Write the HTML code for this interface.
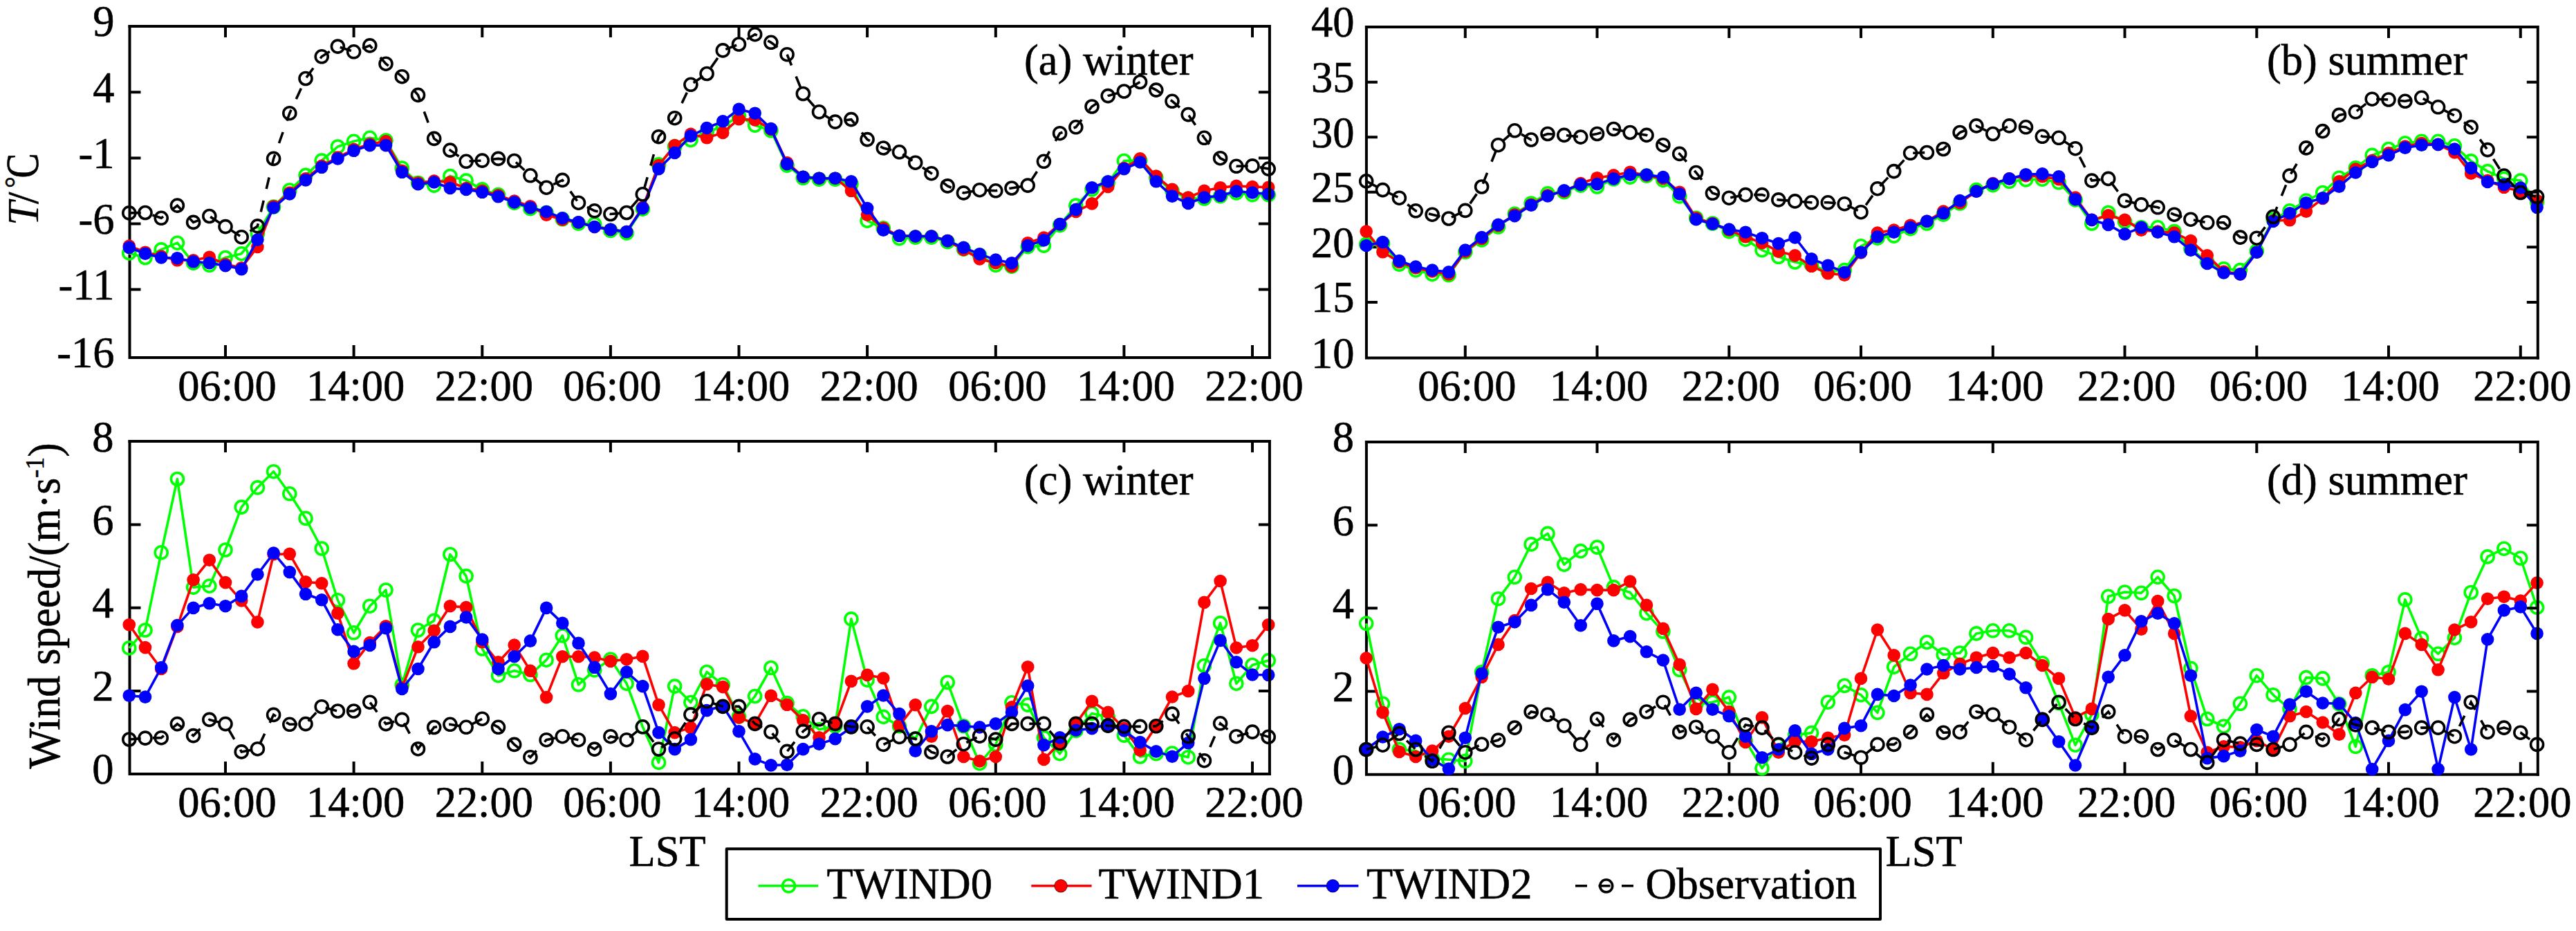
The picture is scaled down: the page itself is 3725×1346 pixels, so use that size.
<!DOCTYPE html>
<html lang="en"><head><meta charset="utf-8"><title>TWIND comparison</title>
<style>html,body{margin:0;padding:0;background:#fff}body{width:3725px;height:1346px;overflow:hidden}svg{display:block}</style>
</head><body>
<svg width="3725" height="1346" viewBox="0 0 3725 1346">
<rect width="3725" height="1346" fill="#fff"/>
<g id="panel-a">
<path d="M187.5 36.1V516.9H1837.9M326.0 516.9v-18M511.6 516.9v-18M697.3 516.9v-18M882.9 516.9v-18M1068.5 516.9v-18M1254.1 516.9v-18M1439.8 516.9v-18M1625.4 516.9v-18M1811.0 516.9v-18M187.5 133.3h16M187.5 228.4h16M187.5 323.4h16M187.5 418.6h16" stroke="#000" stroke-width="4.0" fill="none"/>
<polyline points="186.8,365.9 210.0,372.5 233.2,360.9 256.4,351.2 279.6,380.2 302.8,383.3 326.0,372.5 349.2,366.7 372.4,337.7 395.6,299.0 418.8,275.0 442.0,253.4 465.2,232.1 488.4,212.0 511.6,204.3 534.8,199.3 558.0,203.1 581.3,243.0 604.5,264.2 627.7,268.1 650.9,254.6 674.1,261.1 697.3,273.9 720.5,281.6 743.7,293.2 766.9,301.7 790.1,307.5 813.3,316.8 836.5,323.0 859.7,324.1 882.9,333.4 906.1,336.9 929.3,302.1 952.5,237.9 975.7,212.0 998.9,202.4 1022.1,190.8 1045.3,183.0 1068.5,167.6 1091.7,181.1 1114.9,188.8 1138.1,239.1 1161.3,257.3 1184.5,259.2 1207.7,259.2 1230.9,266.2 1254.1,319.1 1277.3,329.9 1300.5,344.6 1323.7,343.1 1346.9,343.1 1370.2,349.7 1393.4,360.1 1416.6,369.0 1439.8,383.3 1463.0,385.2 1486.2,356.6 1509.4,355.1 1532.6,325.7 1555.8,297.1 1579.0,273.9 1602.2,264.2 1625.4,232.5 1648.6,232.1 1671.8,256.5 1695.0,275.8 1718.2,287.4 1741.4,287.0 1764.6,283.6 1787.8,278.9 1811.0,281.6 1834.2,281.6" fill="none" stroke="#00ff00" stroke-width="3.6" stroke-linejoin="round"/>
<g fill="none" stroke="#00ff00" stroke-width="3.6"><circle cx="186.8" cy="365.9" r="9"/><circle cx="210.0" cy="372.5" r="9"/><circle cx="233.2" cy="360.9" r="9"/><circle cx="256.4" cy="351.2" r="9"/><circle cx="279.6" cy="380.2" r="9"/><circle cx="302.8" cy="383.3" r="9"/><circle cx="326.0" cy="372.5" r="9"/><circle cx="349.2" cy="366.7" r="9"/><circle cx="372.4" cy="337.7" r="9"/><circle cx="395.6" cy="299.0" r="9"/><circle cx="418.8" cy="275.0" r="9"/><circle cx="442.0" cy="253.4" r="9"/><circle cx="465.2" cy="232.1" r="9"/><circle cx="488.4" cy="212.0" r="9"/><circle cx="511.6" cy="204.3" r="9"/><circle cx="534.8" cy="199.3" r="9"/><circle cx="558.0" cy="203.1" r="9"/><circle cx="581.3" cy="243.0" r="9"/><circle cx="604.5" cy="264.2" r="9"/><circle cx="627.7" cy="268.1" r="9"/><circle cx="650.9" cy="254.6" r="9"/><circle cx="674.1" cy="261.1" r="9"/><circle cx="697.3" cy="273.9" r="9"/><circle cx="720.5" cy="281.6" r="9"/><circle cx="743.7" cy="293.2" r="9"/><circle cx="766.9" cy="301.7" r="9"/><circle cx="790.1" cy="307.5" r="9"/><circle cx="813.3" cy="316.8" r="9"/><circle cx="836.5" cy="323.0" r="9"/><circle cx="859.7" cy="324.1" r="9"/><circle cx="882.9" cy="333.4" r="9"/><circle cx="906.1" cy="336.9" r="9"/><circle cx="929.3" cy="302.1" r="9"/><circle cx="952.5" cy="237.9" r="9"/><circle cx="975.7" cy="212.0" r="9"/><circle cx="998.9" cy="202.4" r="9"/><circle cx="1022.1" cy="190.8" r="9"/><circle cx="1045.3" cy="183.0" r="9"/><circle cx="1068.5" cy="167.6" r="9"/><circle cx="1091.7" cy="181.1" r="9"/><circle cx="1114.9" cy="188.8" r="9"/><circle cx="1138.1" cy="239.1" r="9"/><circle cx="1161.3" cy="257.3" r="9"/><circle cx="1184.5" cy="259.2" r="9"/><circle cx="1207.7" cy="259.2" r="9"/><circle cx="1230.9" cy="266.2" r="9"/><circle cx="1254.1" cy="319.1" r="9"/><circle cx="1277.3" cy="329.9" r="9"/><circle cx="1300.5" cy="344.6" r="9"/><circle cx="1323.7" cy="343.1" r="9"/><circle cx="1346.9" cy="343.1" r="9"/><circle cx="1370.2" cy="349.7" r="9"/><circle cx="1393.4" cy="360.1" r="9"/><circle cx="1416.6" cy="369.0" r="9"/><circle cx="1439.8" cy="383.3" r="9"/><circle cx="1463.0" cy="385.2" r="9"/><circle cx="1486.2" cy="356.6" r="9"/><circle cx="1509.4" cy="355.1" r="9"/><circle cx="1532.6" cy="325.7" r="9"/><circle cx="1555.8" cy="297.1" r="9"/><circle cx="1579.0" cy="273.9" r="9"/><circle cx="1602.2" cy="264.2" r="9"/><circle cx="1625.4" cy="232.5" r="9"/><circle cx="1648.6" cy="232.1" r="9"/><circle cx="1671.8" cy="256.5" r="9"/><circle cx="1695.0" cy="275.8" r="9"/><circle cx="1718.2" cy="287.4" r="9"/><circle cx="1741.4" cy="287.0" r="9"/><circle cx="1764.6" cy="283.6" r="9"/><circle cx="1787.8" cy="278.9" r="9"/><circle cx="1811.0" cy="281.6" r="9"/><circle cx="1834.2" cy="281.6" r="9"/></g>
<polyline points="186.8,355.5 210.0,364.7 233.2,370.5 256.4,376.3 279.6,376.3 302.8,371.7 326.0,382.1 349.2,387.2 372.4,357.0 395.6,298.2 418.8,278.5 442.0,258.4 465.2,239.9 488.4,227.5 511.6,215.9 534.8,208.2 558.0,204.3 581.3,246.8 604.5,264.2 627.7,261.5 650.9,263.5 674.1,272.0 697.3,275.8 720.5,282.4 743.7,290.5 766.9,298.2 790.1,310.6 813.3,317.6 836.5,321.4 859.7,328.0 882.9,331.9 906.1,335.0 929.3,299.8 952.5,239.1 975.7,210.1 998.9,193.9 1022.1,199.3 1045.3,191.9 1068.5,172.2 1091.7,173.4 1114.9,186.9 1138.1,235.2 1161.3,255.7 1184.5,257.7 1207.7,257.7 1230.9,275.8 1254.1,310.6 1277.3,329.9 1300.5,340.8 1323.7,341.5 1346.9,341.5 1370.2,348.1 1393.4,360.9 1416.6,374.4 1439.8,380.2 1463.0,385.2 1486.2,351.2 1509.4,343.5 1532.6,324.1 1555.8,306.0 1579.0,294.4 1602.2,270.0 1625.4,243.0 1648.6,229.4 1671.8,254.6 1695.0,273.9 1718.2,285.5 1741.4,275.8 1764.6,271.2 1787.8,268.9 1811.0,270.0 1834.2,270.8" fill="none" stroke="#ff0000" stroke-width="3.6" stroke-linejoin="round"/>
<g fill="#ff0000"><circle cx="186.8" cy="355.5" r="9.3"/><circle cx="210.0" cy="364.7" r="9.3"/><circle cx="233.2" cy="370.5" r="9.3"/><circle cx="256.4" cy="376.3" r="9.3"/><circle cx="279.6" cy="376.3" r="9.3"/><circle cx="302.8" cy="371.7" r="9.3"/><circle cx="326.0" cy="382.1" r="9.3"/><circle cx="349.2" cy="387.2" r="9.3"/><circle cx="372.4" cy="357.0" r="9.3"/><circle cx="395.6" cy="298.2" r="9.3"/><circle cx="418.8" cy="278.5" r="9.3"/><circle cx="442.0" cy="258.4" r="9.3"/><circle cx="465.2" cy="239.9" r="9.3"/><circle cx="488.4" cy="227.5" r="9.3"/><circle cx="511.6" cy="215.9" r="9.3"/><circle cx="534.8" cy="208.2" r="9.3"/><circle cx="558.0" cy="204.3" r="9.3"/><circle cx="581.3" cy="246.8" r="9.3"/><circle cx="604.5" cy="264.2" r="9.3"/><circle cx="627.7" cy="261.5" r="9.3"/><circle cx="650.9" cy="263.5" r="9.3"/><circle cx="674.1" cy="272.0" r="9.3"/><circle cx="697.3" cy="275.8" r="9.3"/><circle cx="720.5" cy="282.4" r="9.3"/><circle cx="743.7" cy="290.5" r="9.3"/><circle cx="766.9" cy="298.2" r="9.3"/><circle cx="790.1" cy="310.6" r="9.3"/><circle cx="813.3" cy="317.6" r="9.3"/><circle cx="836.5" cy="321.4" r="9.3"/><circle cx="859.7" cy="328.0" r="9.3"/><circle cx="882.9" cy="331.9" r="9.3"/><circle cx="906.1" cy="335.0" r="9.3"/><circle cx="929.3" cy="299.8" r="9.3"/><circle cx="952.5" cy="239.1" r="9.3"/><circle cx="975.7" cy="210.1" r="9.3"/><circle cx="998.9" cy="193.9" r="9.3"/><circle cx="1022.1" cy="199.3" r="9.3"/><circle cx="1045.3" cy="191.9" r="9.3"/><circle cx="1068.5" cy="172.2" r="9.3"/><circle cx="1091.7" cy="173.4" r="9.3"/><circle cx="1114.9" cy="186.9" r="9.3"/><circle cx="1138.1" cy="235.2" r="9.3"/><circle cx="1161.3" cy="255.7" r="9.3"/><circle cx="1184.5" cy="257.7" r="9.3"/><circle cx="1207.7" cy="257.7" r="9.3"/><circle cx="1230.9" cy="275.8" r="9.3"/><circle cx="1254.1" cy="310.6" r="9.3"/><circle cx="1277.3" cy="329.9" r="9.3"/><circle cx="1300.5" cy="340.8" r="9.3"/><circle cx="1323.7" cy="341.5" r="9.3"/><circle cx="1346.9" cy="341.5" r="9.3"/><circle cx="1370.2" cy="348.1" r="9.3"/><circle cx="1393.4" cy="360.9" r="9.3"/><circle cx="1416.6" cy="374.4" r="9.3"/><circle cx="1439.8" cy="380.2" r="9.3"/><circle cx="1463.0" cy="385.2" r="9.3"/><circle cx="1486.2" cy="351.2" r="9.3"/><circle cx="1509.4" cy="343.5" r="9.3"/><circle cx="1532.6" cy="324.1" r="9.3"/><circle cx="1555.8" cy="306.0" r="9.3"/><circle cx="1579.0" cy="294.4" r="9.3"/><circle cx="1602.2" cy="270.0" r="9.3"/><circle cx="1625.4" cy="243.0" r="9.3"/><circle cx="1648.6" cy="229.4" r="9.3"/><circle cx="1671.8" cy="254.6" r="9.3"/><circle cx="1695.0" cy="273.9" r="9.3"/><circle cx="1718.2" cy="285.5" r="9.3"/><circle cx="1741.4" cy="275.8" r="9.3"/><circle cx="1764.6" cy="271.2" r="9.3"/><circle cx="1787.8" cy="268.9" r="9.3"/><circle cx="1811.0" cy="270.0" r="9.3"/><circle cx="1834.2" cy="270.8" r="9.3"/></g>
<polyline points="186.8,357.8 210.0,366.7 233.2,372.5 256.4,373.2 279.6,378.3 302.8,380.2 326.0,384.1 349.2,389.1 372.4,346.6 395.6,300.2 418.8,280.5 442.0,260.4 465.2,241.8 488.4,229.4 511.6,217.8 534.8,210.1 558.0,210.1 581.3,248.8 604.5,266.2 627.7,263.5 650.9,272.0 674.1,273.9 697.3,277.8 720.5,284.3 743.7,292.4 766.9,300.2 790.1,306.0 813.3,315.3 836.5,321.4 859.7,328.0 882.9,331.9 906.1,335.0 929.3,301.0 952.5,244.1 975.7,220.9 998.9,196.6 1022.1,185.0 1045.3,175.3 1068.5,157.9 1091.7,163.7 1114.9,186.1 1138.1,237.2 1161.3,255.7 1184.5,257.7 1207.7,257.7 1230.9,262.3 1254.1,301.0 1277.3,332.7 1300.5,340.8 1323.7,341.5 1346.9,341.5 1370.2,348.1 1393.4,357.8 1416.6,367.4 1439.8,375.6 1463.0,380.2 1486.2,355.1 1509.4,347.3 1532.6,324.1 1555.8,302.9 1579.0,271.2 1602.2,262.3 1625.4,244.1 1648.6,234.5 1671.8,262.3 1695.0,283.6 1718.2,294.0 1741.4,285.5 1764.6,282.8 1787.8,276.6 1811.0,278.5 1834.2,280.5" fill="none" stroke="#0000ff" stroke-width="3.6" stroke-linejoin="round"/>
<g fill="#0000ff"><circle cx="186.8" cy="357.8" r="9.3"/><circle cx="210.0" cy="366.7" r="9.3"/><circle cx="233.2" cy="372.5" r="9.3"/><circle cx="256.4" cy="373.2" r="9.3"/><circle cx="279.6" cy="378.3" r="9.3"/><circle cx="302.8" cy="380.2" r="9.3"/><circle cx="326.0" cy="384.1" r="9.3"/><circle cx="349.2" cy="389.1" r="9.3"/><circle cx="372.4" cy="346.6" r="9.3"/><circle cx="395.6" cy="300.2" r="9.3"/><circle cx="418.8" cy="280.5" r="9.3"/><circle cx="442.0" cy="260.4" r="9.3"/><circle cx="465.2" cy="241.8" r="9.3"/><circle cx="488.4" cy="229.4" r="9.3"/><circle cx="511.6" cy="217.8" r="9.3"/><circle cx="534.8" cy="210.1" r="9.3"/><circle cx="558.0" cy="210.1" r="9.3"/><circle cx="581.3" cy="248.8" r="9.3"/><circle cx="604.5" cy="266.2" r="9.3"/><circle cx="627.7" cy="263.5" r="9.3"/><circle cx="650.9" cy="272.0" r="9.3"/><circle cx="674.1" cy="273.9" r="9.3"/><circle cx="697.3" cy="277.8" r="9.3"/><circle cx="720.5" cy="284.3" r="9.3"/><circle cx="743.7" cy="292.4" r="9.3"/><circle cx="766.9" cy="300.2" r="9.3"/><circle cx="790.1" cy="306.0" r="9.3"/><circle cx="813.3" cy="315.3" r="9.3"/><circle cx="836.5" cy="321.4" r="9.3"/><circle cx="859.7" cy="328.0" r="9.3"/><circle cx="882.9" cy="331.9" r="9.3"/><circle cx="906.1" cy="335.0" r="9.3"/><circle cx="929.3" cy="301.0" r="9.3"/><circle cx="952.5" cy="244.1" r="9.3"/><circle cx="975.7" cy="220.9" r="9.3"/><circle cx="998.9" cy="196.6" r="9.3"/><circle cx="1022.1" cy="185.0" r="9.3"/><circle cx="1045.3" cy="175.3" r="9.3"/><circle cx="1068.5" cy="157.9" r="9.3"/><circle cx="1091.7" cy="163.7" r="9.3"/><circle cx="1114.9" cy="186.1" r="9.3"/><circle cx="1138.1" cy="237.2" r="9.3"/><circle cx="1161.3" cy="255.7" r="9.3"/><circle cx="1184.5" cy="257.7" r="9.3"/><circle cx="1207.7" cy="257.7" r="9.3"/><circle cx="1230.9" cy="262.3" r="9.3"/><circle cx="1254.1" cy="301.0" r="9.3"/><circle cx="1277.3" cy="332.7" r="9.3"/><circle cx="1300.5" cy="340.8" r="9.3"/><circle cx="1323.7" cy="341.5" r="9.3"/><circle cx="1346.9" cy="341.5" r="9.3"/><circle cx="1370.2" cy="348.1" r="9.3"/><circle cx="1393.4" cy="357.8" r="9.3"/><circle cx="1416.6" cy="367.4" r="9.3"/><circle cx="1439.8" cy="375.6" r="9.3"/><circle cx="1463.0" cy="380.2" r="9.3"/><circle cx="1486.2" cy="355.1" r="9.3"/><circle cx="1509.4" cy="347.3" r="9.3"/><circle cx="1532.6" cy="324.1" r="9.3"/><circle cx="1555.8" cy="302.9" r="9.3"/><circle cx="1579.0" cy="271.2" r="9.3"/><circle cx="1602.2" cy="262.3" r="9.3"/><circle cx="1625.4" cy="244.1" r="9.3"/><circle cx="1648.6" cy="234.5" r="9.3"/><circle cx="1671.8" cy="262.3" r="9.3"/><circle cx="1695.0" cy="283.6" r="9.3"/><circle cx="1718.2" cy="294.0" r="9.3"/><circle cx="1741.4" cy="285.5" r="9.3"/><circle cx="1764.6" cy="282.8" r="9.3"/><circle cx="1787.8" cy="276.6" r="9.3"/><circle cx="1811.0" cy="278.5" r="9.3"/><circle cx="1834.2" cy="280.5" r="9.3"/></g>
<polyline points="186.8,307.9 210.0,307.5 233.2,315.3 256.4,297.1 279.6,321.4 302.8,312.5 326.0,327.6 349.2,342.7 372.4,326.9 395.6,229.4 418.8,163.7 442.0,113.5 465.2,81.8 488.4,67.1 511.6,74.8 534.8,65.9 558.0,92.2 581.3,110.7 604.5,137.4 627.7,200.4 650.9,217.1 674.1,233.3 697.3,232.1 720.5,229.4 743.7,232.5 766.9,253.8 790.1,271.2 813.3,260.4 836.5,293.2 859.7,304.8 882.9,309.5 906.1,307.5 929.3,280.8 952.5,197.7 975.7,170.7 998.9,122.3 1022.1,106.5 1045.3,72.9 1068.5,64.0 1091.7,49.7 1114.9,61.3 1138.1,78.7 1161.3,135.5 1184.5,161.8 1207.7,176.1 1230.9,172.6 1254.1,201.6 1277.3,214.0 1300.5,219.8 1323.7,235.2 1346.9,250.7 1370.2,268.9 1393.4,278.9 1416.6,274.7 1439.8,275.8 1463.0,272.0 1486.2,268.1 1509.4,233.3 1532.6,192.7 1555.8,183.8 1579.0,154.0 1602.2,138.6 1625.4,132.0 1648.6,118.5 1671.8,130.1 1695.0,146.3 1718.2,165.6 1741.4,199.3 1764.6,228.7 1787.8,240.3 1811.0,239.9 1834.2,244.1" fill="none" stroke="#000000" stroke-width="3.6" stroke-dasharray="17 17.3" stroke-dashoffset="0"/>
<g fill="none" stroke="#000000" stroke-width="3.6"><circle cx="186.8" cy="307.9" r="9"/><circle cx="210.0" cy="307.5" r="9"/><circle cx="233.2" cy="315.3" r="9"/><circle cx="256.4" cy="297.1" r="9"/><circle cx="279.6" cy="321.4" r="9"/><circle cx="302.8" cy="312.5" r="9"/><circle cx="326.0" cy="327.6" r="9"/><circle cx="349.2" cy="342.7" r="9"/><circle cx="372.4" cy="326.9" r="9"/><circle cx="395.6" cy="229.4" r="9"/><circle cx="418.8" cy="163.7" r="9"/><circle cx="442.0" cy="113.5" r="9"/><circle cx="465.2" cy="81.8" r="9"/><circle cx="488.4" cy="67.1" r="9"/><circle cx="511.6" cy="74.8" r="9"/><circle cx="534.8" cy="65.9" r="9"/><circle cx="558.0" cy="92.2" r="9"/><circle cx="581.3" cy="110.7" r="9"/><circle cx="604.5" cy="137.4" r="9"/><circle cx="627.7" cy="200.4" r="9"/><circle cx="650.9" cy="217.1" r="9"/><circle cx="674.1" cy="233.3" r="9"/><circle cx="697.3" cy="232.1" r="9"/><circle cx="720.5" cy="229.4" r="9"/><circle cx="743.7" cy="232.5" r="9"/><circle cx="766.9" cy="253.8" r="9"/><circle cx="790.1" cy="271.2" r="9"/><circle cx="813.3" cy="260.4" r="9"/><circle cx="836.5" cy="293.2" r="9"/><circle cx="859.7" cy="304.8" r="9"/><circle cx="882.9" cy="309.5" r="9"/><circle cx="906.1" cy="307.5" r="9"/><circle cx="929.3" cy="280.8" r="9"/><circle cx="952.5" cy="197.7" r="9"/><circle cx="975.7" cy="170.7" r="9"/><circle cx="998.9" cy="122.3" r="9"/><circle cx="1022.1" cy="106.5" r="9"/><circle cx="1045.3" cy="72.9" r="9"/><circle cx="1068.5" cy="64.0" r="9"/><circle cx="1091.7" cy="49.7" r="9"/><circle cx="1114.9" cy="61.3" r="9"/><circle cx="1138.1" cy="78.7" r="9"/><circle cx="1161.3" cy="135.5" r="9"/><circle cx="1184.5" cy="161.8" r="9"/><circle cx="1207.7" cy="176.1" r="9"/><circle cx="1230.9" cy="172.6" r="9"/><circle cx="1254.1" cy="201.6" r="9"/><circle cx="1277.3" cy="214.0" r="9"/><circle cx="1300.5" cy="219.8" r="9"/><circle cx="1323.7" cy="235.2" r="9"/><circle cx="1346.9" cy="250.7" r="9"/><circle cx="1370.2" cy="268.9" r="9"/><circle cx="1393.4" cy="278.9" r="9"/><circle cx="1416.6" cy="274.7" r="9"/><circle cx="1439.8" cy="275.8" r="9"/><circle cx="1463.0" cy="272.0" r="9"/><circle cx="1486.2" cy="268.1" r="9"/><circle cx="1509.4" cy="233.3" r="9"/><circle cx="1532.6" cy="192.7" r="9"/><circle cx="1555.8" cy="183.8" r="9"/><circle cx="1579.0" cy="154.0" r="9"/><circle cx="1602.2" cy="138.6" r="9"/><circle cx="1625.4" cy="132.0" r="9"/><circle cx="1648.6" cy="118.5" r="9"/><circle cx="1671.8" cy="130.1" r="9"/><circle cx="1695.0" cy="146.3" r="9"/><circle cx="1718.2" cy="165.6" r="9"/><circle cx="1741.4" cy="199.3" r="9"/><circle cx="1764.6" cy="228.7" r="9"/><circle cx="1787.8" cy="240.3" r="9"/><circle cx="1811.0" cy="239.9" r="9"/><circle cx="1834.2" cy="244.1" r="9"/></g>
<path d="M185.5 38.1H1835.9V518.9M326.0 38.1v16M511.6 38.1v16M697.3 38.1v16M882.9 38.1v16M1068.5 38.1v16M1254.1 38.1v16M1439.8 38.1v16M1625.4 38.1v16M1811.0 38.1v16M1835.9 133.3h-16M1835.9 228.4h-16M1835.9 323.4h-16M1835.9 418.6h-16" stroke="#000" stroke-width="4.0" fill="none"/>
<g font-family="'Liberation Serif', 'Times New Roman', serif" font-size="62.5" fill="#000" stroke="#000" stroke-width="0.6" stroke-linejoin="round">
<text transform="translate(165.5,52.4) scale(1,1.02)" text-anchor="end">9</text>
<text transform="translate(165.5,147.6) scale(1,1.02)" text-anchor="end">4</text>
<text transform="translate(165.5,242.7) scale(1,1.02)" text-anchor="end">-1</text>
<text transform="translate(165.5,337.7) scale(1,1.02)" text-anchor="end">-6</text>
<text transform="translate(165.5,432.9) scale(1,1.02)" text-anchor="end">-11</text>
<text transform="translate(165.5,531.2) scale(1,1.02)" text-anchor="end">-16</text>
<text transform="translate(328.5,579.0) scale(1,1.02)" text-anchor="middle">06:00</text>
<text transform="translate(514.1,579.0) scale(1,1.02)" text-anchor="middle">14:00</text>
<text transform="translate(699.8,579.0) scale(1,1.02)" text-anchor="middle">22:00</text>
<text transform="translate(885.4,579.0) scale(1,1.02)" text-anchor="middle">06:00</text>
<text transform="translate(1071.0,579.0) scale(1,1.02)" text-anchor="middle">14:00</text>
<text transform="translate(1256.6,579.0) scale(1,1.02)" text-anchor="middle">22:00</text>
<text transform="translate(1442.3,579.0) scale(1,1.02)" text-anchor="middle">06:00</text>
<text transform="translate(1627.9,579.0) scale(1,1.02)" text-anchor="middle">14:00</text>
<text transform="translate(1813.5,579.0) scale(1,1.02)" text-anchor="middle">22:00</text>
</g>
</g>
<g id="panel-b">
<path d="M1975.9 37.1V517.6H3671.8M2118.8 517.6v-18M2309.5 517.6v-18M2500.3 517.6v-18M2691.0 517.6v-18M2881.8 517.6v-18M3072.5 517.6v-18M3263.3 517.6v-18M3454.0 517.6v-18M3644.8 517.6v-18M1975.9 118.8h16M1975.9 198.3h16M1975.9 277.8h16M1975.9 357.3h16M1975.9 436.9h16" stroke="#000" stroke-width="4.0" fill="none"/>
<polyline points="1975.7,353.1 1999.5,352.0 2023.4,382.1 2047.2,390.6 2071.1,396.4 2094.9,397.6 2118.8,364.3 2142.6,346.9 2166.5,328.0 2190.3,309.4 2214.1,294.0 2238.0,279.7 2261.8,277.7 2285.7,268.1 2309.5,270.0 2333.4,258.8 2357.2,256.1 2381.0,254.1 2404.9,260.3 2428.7,283.9 2452.6,315.2 2476.4,323.0 2500.3,334.6 2524.1,346.2 2548.0,361.6 2571.8,371.3 2595.6,379.0 2619.5,382.9 2643.3,392.5 2667.2,390.6 2691.0,355.8 2714.9,344.2 2738.7,341.1 2762.6,330.7 2786.4,323.0 2810.2,310.2 2834.1,294.0 2857.9,274.6 2881.8,267.7 2905.6,262.3 2929.5,259.9 2953.3,259.2 2977.1,263.8 3001.0,288.9 3024.8,323.0 3048.7,307.5 3072.5,320.3 3096.4,328.8 3120.2,328.8 3144.1,334.6 3167.9,359.7 3191.7,379.0 3215.6,388.7 3239.4,390.6 3263.3,362.8 3287.1,317.2 3311.0,304.8 3334.8,290.1 3358.7,278.5 3382.5,257.2 3406.3,242.9 3430.2,224.4 3454.0,215.5 3477.9,207.0 3501.7,204.3 3525.6,204.3 3549.4,210.8 3573.2,232.9 3597.1,247.6 3620.9,258.4 3644.8,261.1 3668.6,292.0" fill="none" stroke="#00ff00" stroke-width="3.6" stroke-linejoin="round"/>
<g fill="none" stroke="#00ff00" stroke-width="3.6"><circle cx="1975.7" cy="353.1" r="9"/><circle cx="1999.5" cy="352.0" r="9"/><circle cx="2023.4" cy="382.1" r="9"/><circle cx="2047.2" cy="390.6" r="9"/><circle cx="2071.1" cy="396.4" r="9"/><circle cx="2094.9" cy="397.6" r="9"/><circle cx="2118.8" cy="364.3" r="9"/><circle cx="2142.6" cy="346.9" r="9"/><circle cx="2166.5" cy="328.0" r="9"/><circle cx="2190.3" cy="309.4" r="9"/><circle cx="2214.1" cy="294.0" r="9"/><circle cx="2238.0" cy="279.7" r="9"/><circle cx="2261.8" cy="277.7" r="9"/><circle cx="2285.7" cy="268.1" r="9"/><circle cx="2309.5" cy="270.0" r="9"/><circle cx="2333.4" cy="258.8" r="9"/><circle cx="2357.2" cy="256.1" r="9"/><circle cx="2381.0" cy="254.1" r="9"/><circle cx="2404.9" cy="260.3" r="9"/><circle cx="2428.7" cy="283.9" r="9"/><circle cx="2452.6" cy="315.2" r="9"/><circle cx="2476.4" cy="323.0" r="9"/><circle cx="2500.3" cy="334.6" r="9"/><circle cx="2524.1" cy="346.2" r="9"/><circle cx="2548.0" cy="361.6" r="9"/><circle cx="2571.8" cy="371.3" r="9"/><circle cx="2595.6" cy="379.0" r="9"/><circle cx="2619.5" cy="382.9" r="9"/><circle cx="2643.3" cy="392.5" r="9"/><circle cx="2667.2" cy="390.6" r="9"/><circle cx="2691.0" cy="355.8" r="9"/><circle cx="2714.9" cy="344.2" r="9"/><circle cx="2738.7" cy="341.1" r="9"/><circle cx="2762.6" cy="330.7" r="9"/><circle cx="2786.4" cy="323.0" r="9"/><circle cx="2810.2" cy="310.2" r="9"/><circle cx="2834.1" cy="294.0" r="9"/><circle cx="2857.9" cy="274.6" r="9"/><circle cx="2881.8" cy="267.7" r="9"/><circle cx="2905.6" cy="262.3" r="9"/><circle cx="2929.5" cy="259.9" r="9"/><circle cx="2953.3" cy="259.2" r="9"/><circle cx="2977.1" cy="263.8" r="9"/><circle cx="3001.0" cy="288.9" r="9"/><circle cx="3024.8" cy="323.0" r="9"/><circle cx="3048.7" cy="307.5" r="9"/><circle cx="3072.5" cy="320.3" r="9"/><circle cx="3096.4" cy="328.8" r="9"/><circle cx="3120.2" cy="328.8" r="9"/><circle cx="3144.1" cy="334.6" r="9"/><circle cx="3167.9" cy="359.7" r="9"/><circle cx="3191.7" cy="379.0" r="9"/><circle cx="3215.6" cy="388.7" r="9"/><circle cx="3239.4" cy="390.6" r="9"/><circle cx="3263.3" cy="362.8" r="9"/><circle cx="3287.1" cy="317.2" r="9"/><circle cx="3311.0" cy="304.8" r="9"/><circle cx="3334.8" cy="290.1" r="9"/><circle cx="3358.7" cy="278.5" r="9"/><circle cx="3382.5" cy="257.2" r="9"/><circle cx="3406.3" cy="242.9" r="9"/><circle cx="3430.2" cy="224.4" r="9"/><circle cx="3454.0" cy="215.5" r="9"/><circle cx="3477.9" cy="207.0" r="9"/><circle cx="3501.7" cy="204.3" r="9"/><circle cx="3525.6" cy="204.3" r="9"/><circle cx="3549.4" cy="210.8" r="9"/><circle cx="3573.2" cy="232.9" r="9"/><circle cx="3597.1" cy="247.6" r="9"/><circle cx="3620.9" cy="258.4" r="9"/><circle cx="3644.8" cy="261.1" r="9"/><circle cx="3668.6" cy="292.0" r="9"/></g>
<polyline points="1975.7,334.6 1999.5,364.3 2023.4,379.0 2047.2,387.5 2071.1,392.5 2094.9,396.4 2118.8,363.6 2142.6,345.0 2166.5,326.1 2190.3,310.2 2214.1,295.9 2238.0,282.4 2261.8,276.6 2285.7,265.0 2309.5,257.2 2333.4,253.4 2357.2,248.7 2381.0,253.4 2404.9,258.0 2428.7,277.7 2452.6,315.2 2476.4,323.0 2500.3,332.6 2524.1,342.3 2548.0,351.2 2571.8,363.6 2595.6,369.4 2619.5,384.8 2643.3,395.3 2667.2,397.6 2691.0,365.5 2714.9,336.5 2738.7,332.6 2762.6,325.7 2786.4,319.9 2810.2,305.6 2834.1,293.2 2857.9,276.6 2881.8,265.0 2905.6,258.4 2929.5,254.1 2953.3,255.3 2977.1,259.2 3001.0,285.5 3024.8,317.9 3048.7,311.4 3072.5,317.9 3096.4,332.6 3120.2,334.6 3144.1,336.5 3167.9,348.1 3191.7,369.4 3215.6,392.5 3239.4,396.4 3263.3,364.7 3287.1,319.1 3311.0,318.3 3334.8,305.6 3358.7,287.0 3382.5,262.3 3406.3,244.5 3430.2,232.1 3454.0,221.3 3477.9,211.6 3501.7,207.0 3525.6,208.9 3549.4,220.5 3573.2,250.7 3597.1,261.1 3620.9,270.8 3644.8,276.6 3668.6,290.1" fill="none" stroke="#ff0000" stroke-width="3.6" stroke-linejoin="round"/>
<g fill="#ff0000"><circle cx="1975.7" cy="334.6" r="9.3"/><circle cx="1999.5" cy="364.3" r="9.3"/><circle cx="2023.4" cy="379.0" r="9.3"/><circle cx="2047.2" cy="387.5" r="9.3"/><circle cx="2071.1" cy="392.5" r="9.3"/><circle cx="2094.9" cy="396.4" r="9.3"/><circle cx="2118.8" cy="363.6" r="9.3"/><circle cx="2142.6" cy="345.0" r="9.3"/><circle cx="2166.5" cy="326.1" r="9.3"/><circle cx="2190.3" cy="310.2" r="9.3"/><circle cx="2214.1" cy="295.9" r="9.3"/><circle cx="2238.0" cy="282.4" r="9.3"/><circle cx="2261.8" cy="276.6" r="9.3"/><circle cx="2285.7" cy="265.0" r="9.3"/><circle cx="2309.5" cy="257.2" r="9.3"/><circle cx="2333.4" cy="253.4" r="9.3"/><circle cx="2357.2" cy="248.7" r="9.3"/><circle cx="2381.0" cy="253.4" r="9.3"/><circle cx="2404.9" cy="258.0" r="9.3"/><circle cx="2428.7" cy="277.7" r="9.3"/><circle cx="2452.6" cy="315.2" r="9.3"/><circle cx="2476.4" cy="323.0" r="9.3"/><circle cx="2500.3" cy="332.6" r="9.3"/><circle cx="2524.1" cy="342.3" r="9.3"/><circle cx="2548.0" cy="351.2" r="9.3"/><circle cx="2571.8" cy="363.6" r="9.3"/><circle cx="2595.6" cy="369.4" r="9.3"/><circle cx="2619.5" cy="384.8" r="9.3"/><circle cx="2643.3" cy="395.3" r="9.3"/><circle cx="2667.2" cy="397.6" r="9.3"/><circle cx="2691.0" cy="365.5" r="9.3"/><circle cx="2714.9" cy="336.5" r="9.3"/><circle cx="2738.7" cy="332.6" r="9.3"/><circle cx="2762.6" cy="325.7" r="9.3"/><circle cx="2786.4" cy="319.9" r="9.3"/><circle cx="2810.2" cy="305.6" r="9.3"/><circle cx="2834.1" cy="293.2" r="9.3"/><circle cx="2857.9" cy="276.6" r="9.3"/><circle cx="2881.8" cy="265.0" r="9.3"/><circle cx="2905.6" cy="258.4" r="9.3"/><circle cx="2929.5" cy="254.1" r="9.3"/><circle cx="2953.3" cy="255.3" r="9.3"/><circle cx="2977.1" cy="259.2" r="9.3"/><circle cx="3001.0" cy="285.5" r="9.3"/><circle cx="3024.8" cy="317.9" r="9.3"/><circle cx="3048.7" cy="311.4" r="9.3"/><circle cx="3072.5" cy="317.9" r="9.3"/><circle cx="3096.4" cy="332.6" r="9.3"/><circle cx="3120.2" cy="334.6" r="9.3"/><circle cx="3144.1" cy="336.5" r="9.3"/><circle cx="3167.9" cy="348.1" r="9.3"/><circle cx="3191.7" cy="369.4" r="9.3"/><circle cx="3215.6" cy="392.5" r="9.3"/><circle cx="3239.4" cy="396.4" r="9.3"/><circle cx="3263.3" cy="364.7" r="9.3"/><circle cx="3287.1" cy="319.1" r="9.3"/><circle cx="3311.0" cy="318.3" r="9.3"/><circle cx="3334.8" cy="305.6" r="9.3"/><circle cx="3358.7" cy="287.0" r="9.3"/><circle cx="3382.5" cy="262.3" r="9.3"/><circle cx="3406.3" cy="244.5" r="9.3"/><circle cx="3430.2" cy="232.1" r="9.3"/><circle cx="3454.0" cy="221.3" r="9.3"/><circle cx="3477.9" cy="211.6" r="9.3"/><circle cx="3501.7" cy="207.0" r="9.3"/><circle cx="3525.6" cy="208.9" r="9.3"/><circle cx="3549.4" cy="220.5" r="9.3"/><circle cx="3573.2" cy="250.7" r="9.3"/><circle cx="3597.1" cy="261.1" r="9.3"/><circle cx="3620.9" cy="270.8" r="9.3"/><circle cx="3644.8" cy="276.6" r="9.3"/><circle cx="3668.6" cy="290.1" r="9.3"/></g>
<polyline points="1975.7,355.0 1999.5,350.0 2023.4,377.1 2047.2,385.6 2071.1,390.6 2094.9,393.3 2118.8,361.6 2142.6,343.1 2166.5,324.9 2190.3,312.1 2214.1,296.7 2238.0,283.5 2261.8,275.4 2285.7,266.9 2309.5,266.1 2333.4,258.4 2357.2,252.6 2381.0,252.6 2404.9,256.1 2428.7,280.4 2452.6,317.2 2476.4,323.7 2500.3,331.5 2524.1,335.7 2548.0,344.2 2571.8,352.0 2595.6,343.5 2619.5,374.4 2643.3,383.7 2667.2,393.7 2691.0,364.7 2714.9,342.3 2738.7,335.7 2762.6,328.8 2786.4,319.9 2810.2,308.3 2834.1,290.1 2857.9,276.6 2881.8,265.7 2905.6,258.4 2929.5,252.2 2953.3,251.4 2977.1,255.3 3001.0,288.2 3024.8,317.9 3048.7,324.9 3072.5,338.4 3096.4,328.8 3120.2,335.7 3144.1,342.3 3167.9,361.6 3191.7,381.0 3215.6,394.5 3239.4,396.4 3263.3,364.7 3287.1,319.9 3311.0,308.3 3334.8,293.2 3358.7,286.2 3382.5,269.6 3406.3,249.5 3430.2,234.0 3454.0,224.4 3477.9,213.6 3501.7,209.7 3525.6,208.9 3549.4,215.5 3573.2,242.9 3597.1,263.0 3620.9,266.9 3644.8,271.5 3668.6,299.8" fill="none" stroke="#0000ff" stroke-width="3.6" stroke-linejoin="round"/>
<g fill="#0000ff"><circle cx="1975.7" cy="355.0" r="9.3"/><circle cx="1999.5" cy="350.0" r="9.3"/><circle cx="2023.4" cy="377.1" r="9.3"/><circle cx="2047.2" cy="385.6" r="9.3"/><circle cx="2071.1" cy="390.6" r="9.3"/><circle cx="2094.9" cy="393.3" r="9.3"/><circle cx="2118.8" cy="361.6" r="9.3"/><circle cx="2142.6" cy="343.1" r="9.3"/><circle cx="2166.5" cy="324.9" r="9.3"/><circle cx="2190.3" cy="312.1" r="9.3"/><circle cx="2214.1" cy="296.7" r="9.3"/><circle cx="2238.0" cy="283.5" r="9.3"/><circle cx="2261.8" cy="275.4" r="9.3"/><circle cx="2285.7" cy="266.9" r="9.3"/><circle cx="2309.5" cy="266.1" r="9.3"/><circle cx="2333.4" cy="258.4" r="9.3"/><circle cx="2357.2" cy="252.6" r="9.3"/><circle cx="2381.0" cy="252.6" r="9.3"/><circle cx="2404.9" cy="256.1" r="9.3"/><circle cx="2428.7" cy="280.4" r="9.3"/><circle cx="2452.6" cy="317.2" r="9.3"/><circle cx="2476.4" cy="323.7" r="9.3"/><circle cx="2500.3" cy="331.5" r="9.3"/><circle cx="2524.1" cy="335.7" r="9.3"/><circle cx="2548.0" cy="344.2" r="9.3"/><circle cx="2571.8" cy="352.0" r="9.3"/><circle cx="2595.6" cy="343.5" r="9.3"/><circle cx="2619.5" cy="374.4" r="9.3"/><circle cx="2643.3" cy="383.7" r="9.3"/><circle cx="2667.2" cy="393.7" r="9.3"/><circle cx="2691.0" cy="364.7" r="9.3"/><circle cx="2714.9" cy="342.3" r="9.3"/><circle cx="2738.7" cy="335.7" r="9.3"/><circle cx="2762.6" cy="328.8" r="9.3"/><circle cx="2786.4" cy="319.9" r="9.3"/><circle cx="2810.2" cy="308.3" r="9.3"/><circle cx="2834.1" cy="290.1" r="9.3"/><circle cx="2857.9" cy="276.6" r="9.3"/><circle cx="2881.8" cy="265.7" r="9.3"/><circle cx="2905.6" cy="258.4" r="9.3"/><circle cx="2929.5" cy="252.2" r="9.3"/><circle cx="2953.3" cy="251.4" r="9.3"/><circle cx="2977.1" cy="255.3" r="9.3"/><circle cx="3001.0" cy="288.2" r="9.3"/><circle cx="3024.8" cy="317.9" r="9.3"/><circle cx="3048.7" cy="324.9" r="9.3"/><circle cx="3072.5" cy="338.4" r="9.3"/><circle cx="3096.4" cy="328.8" r="9.3"/><circle cx="3120.2" cy="335.7" r="9.3"/><circle cx="3144.1" cy="342.3" r="9.3"/><circle cx="3167.9" cy="361.6" r="9.3"/><circle cx="3191.7" cy="381.0" r="9.3"/><circle cx="3215.6" cy="394.5" r="9.3"/><circle cx="3239.4" cy="396.4" r="9.3"/><circle cx="3263.3" cy="364.7" r="9.3"/><circle cx="3287.1" cy="319.9" r="9.3"/><circle cx="3311.0" cy="308.3" r="9.3"/><circle cx="3334.8" cy="293.2" r="9.3"/><circle cx="3358.7" cy="286.2" r="9.3"/><circle cx="3382.5" cy="269.6" r="9.3"/><circle cx="3406.3" cy="249.5" r="9.3"/><circle cx="3430.2" cy="234.0" r="9.3"/><circle cx="3454.0" cy="224.4" r="9.3"/><circle cx="3477.9" cy="213.6" r="9.3"/><circle cx="3501.7" cy="209.7" r="9.3"/><circle cx="3525.6" cy="208.9" r="9.3"/><circle cx="3549.4" cy="215.5" r="9.3"/><circle cx="3573.2" cy="242.9" r="9.3"/><circle cx="3597.1" cy="263.0" r="9.3"/><circle cx="3620.9" cy="266.9" r="9.3"/><circle cx="3644.8" cy="271.5" r="9.3"/><circle cx="3668.6" cy="299.8" r="9.3"/></g>
<polyline points="1975.7,261.9 1999.5,274.6 2023.4,286.2 2047.2,304.8 2071.1,310.2 2094.9,316.0 2118.8,304.4 2142.6,270.0 2166.5,209.7 2190.3,188.8 2214.1,202.0 2238.0,193.5 2261.8,195.4 2285.7,198.1 2309.5,193.5 2333.4,186.5 2357.2,191.5 2381.0,195.4 2404.9,209.7 2428.7,222.4 2452.6,249.5 2476.4,279.3 2500.3,286.2 2524.1,281.6 2548.0,281.6 2571.8,288.9 2595.6,290.9 2619.5,292.8 2643.3,292.8 2667.2,294.7 2691.0,306.7 2714.9,272.7 2738.7,247.6 2762.6,221.3 2786.4,220.5 2810.2,215.5 2834.1,191.5 2857.9,181.9 2881.8,193.5 2905.6,181.9 2929.5,183.8 2953.3,197.3 2977.1,199.3 3001.0,214.7 3024.8,261.1 3048.7,258.4 3072.5,290.1 3096.4,295.9 3120.2,299.8 3144.1,310.2 3167.9,317.2 3191.7,321.8 3215.6,321.8 3239.4,343.1 3263.3,344.2 3287.1,313.3 3311.0,254.1 3334.8,213.9 3358.7,189.6 3382.5,166.4 3406.3,161.8 3430.2,143.2 3454.0,144.0 3477.9,146.3 3501.7,141.3 3525.6,154.8 3549.4,167.2 3573.2,183.8 3597.1,216.6 3620.9,254.1 3644.8,278.5 3668.6,284.3" fill="none" stroke="#000000" stroke-width="3.6" stroke-dasharray="17 17.3" stroke-dashoffset="0"/>
<g fill="none" stroke="#000000" stroke-width="3.6"><circle cx="1975.7" cy="261.9" r="9"/><circle cx="1999.5" cy="274.6" r="9"/><circle cx="2023.4" cy="286.2" r="9"/><circle cx="2047.2" cy="304.8" r="9"/><circle cx="2071.1" cy="310.2" r="9"/><circle cx="2094.9" cy="316.0" r="9"/><circle cx="2118.8" cy="304.4" r="9"/><circle cx="2142.6" cy="270.0" r="9"/><circle cx="2166.5" cy="209.7" r="9"/><circle cx="2190.3" cy="188.8" r="9"/><circle cx="2214.1" cy="202.0" r="9"/><circle cx="2238.0" cy="193.5" r="9"/><circle cx="2261.8" cy="195.4" r="9"/><circle cx="2285.7" cy="198.1" r="9"/><circle cx="2309.5" cy="193.5" r="9"/><circle cx="2333.4" cy="186.5" r="9"/><circle cx="2357.2" cy="191.5" r="9"/><circle cx="2381.0" cy="195.4" r="9"/><circle cx="2404.9" cy="209.7" r="9"/><circle cx="2428.7" cy="222.4" r="9"/><circle cx="2452.6" cy="249.5" r="9"/><circle cx="2476.4" cy="279.3" r="9"/><circle cx="2500.3" cy="286.2" r="9"/><circle cx="2524.1" cy="281.6" r="9"/><circle cx="2548.0" cy="281.6" r="9"/><circle cx="2571.8" cy="288.9" r="9"/><circle cx="2595.6" cy="290.9" r="9"/><circle cx="2619.5" cy="292.8" r="9"/><circle cx="2643.3" cy="292.8" r="9"/><circle cx="2667.2" cy="294.7" r="9"/><circle cx="2691.0" cy="306.7" r="9"/><circle cx="2714.9" cy="272.7" r="9"/><circle cx="2738.7" cy="247.6" r="9"/><circle cx="2762.6" cy="221.3" r="9"/><circle cx="2786.4" cy="220.5" r="9"/><circle cx="2810.2" cy="215.5" r="9"/><circle cx="2834.1" cy="191.5" r="9"/><circle cx="2857.9" cy="181.9" r="9"/><circle cx="2881.8" cy="193.5" r="9"/><circle cx="2905.6" cy="181.9" r="9"/><circle cx="2929.5" cy="183.8" r="9"/><circle cx="2953.3" cy="197.3" r="9"/><circle cx="2977.1" cy="199.3" r="9"/><circle cx="3001.0" cy="214.7" r="9"/><circle cx="3024.8" cy="261.1" r="9"/><circle cx="3048.7" cy="258.4" r="9"/><circle cx="3072.5" cy="290.1" r="9"/><circle cx="3096.4" cy="295.9" r="9"/><circle cx="3120.2" cy="299.8" r="9"/><circle cx="3144.1" cy="310.2" r="9"/><circle cx="3167.9" cy="317.2" r="9"/><circle cx="3191.7" cy="321.8" r="9"/><circle cx="3215.6" cy="321.8" r="9"/><circle cx="3239.4" cy="343.1" r="9"/><circle cx="3263.3" cy="344.2" r="9"/><circle cx="3287.1" cy="313.3" r="9"/><circle cx="3311.0" cy="254.1" r="9"/><circle cx="3334.8" cy="213.9" r="9"/><circle cx="3358.7" cy="189.6" r="9"/><circle cx="3382.5" cy="166.4" r="9"/><circle cx="3406.3" cy="161.8" r="9"/><circle cx="3430.2" cy="143.2" r="9"/><circle cx="3454.0" cy="144.0" r="9"/><circle cx="3477.9" cy="146.3" r="9"/><circle cx="3501.7" cy="141.3" r="9"/><circle cx="3525.6" cy="154.8" r="9"/><circle cx="3549.4" cy="167.2" r="9"/><circle cx="3573.2" cy="183.8" r="9"/><circle cx="3597.1" cy="216.6" r="9"/><circle cx="3620.9" cy="254.1" r="9"/><circle cx="3644.8" cy="278.5" r="9"/><circle cx="3668.6" cy="284.3" r="9"/></g>
<path d="M1973.9 39.1H3669.8V519.6M2118.8 39.1v16M2309.5 39.1v16M2500.3 39.1v16M2691.0 39.1v16M2881.8 39.1v16M3072.5 39.1v16M3263.3 39.1v16M3454.0 39.1v16M3644.8 39.1v16M3669.8 118.8h-16M3669.8 198.3h-16M3669.8 277.8h-16M3669.8 357.3h-16M3669.8 436.9h-16" stroke="#000" stroke-width="4.0" fill="none"/>
<g font-family="'Liberation Serif', 'Times New Roman', serif" font-size="62.5" fill="#000" stroke="#000" stroke-width="0.6" stroke-linejoin="round">
<text transform="translate(1958.4,53.4) scale(1,1.02)" text-anchor="end">40</text>
<text transform="translate(1958.4,133.1) scale(1,1.02)" text-anchor="end">35</text>
<text transform="translate(1958.4,212.6) scale(1,1.02)" text-anchor="end">30</text>
<text transform="translate(1958.4,292.1) scale(1,1.02)" text-anchor="end">25</text>
<text transform="translate(1958.4,371.6) scale(1,1.02)" text-anchor="end">20</text>
<text transform="translate(1958.4,451.2) scale(1,1.02)" text-anchor="end">15</text>
<text transform="translate(1958.4,531.9) scale(1,1.02)" text-anchor="end">10</text>
<text transform="translate(2121.3,579.0) scale(1,1.02)" text-anchor="middle">06:00</text>
<text transform="translate(2312.0,579.0) scale(1,1.02)" text-anchor="middle">14:00</text>
<text transform="translate(2502.8,579.0) scale(1,1.02)" text-anchor="middle">22:00</text>
<text transform="translate(2693.5,579.0) scale(1,1.02)" text-anchor="middle">06:00</text>
<text transform="translate(2884.3,579.0) scale(1,1.02)" text-anchor="middle">14:00</text>
<text transform="translate(3075.0,579.0) scale(1,1.02)" text-anchor="middle">22:00</text>
<text transform="translate(3265.8,579.0) scale(1,1.02)" text-anchor="middle">06:00</text>
<text transform="translate(3456.5,579.0) scale(1,1.02)" text-anchor="middle">14:00</text>
<text transform="translate(3647.3,579.0) scale(1,1.02)" text-anchor="middle">22:00</text>
</g>
</g>
<g id="panel-c">
<path d="M187.5 636.1V1119.0H1837.9M326.0 1119.0v-18M511.6 1119.0v-18M697.3 1119.0v-18M882.9 1119.0v-18M1068.5 1119.0v-18M1254.1 1119.0v-18M1439.8 1119.0v-18M1625.4 1119.0v-18M1811.0 1119.0v-18M187.5 758.5h16M187.5 878.7h16M187.5 998.9h16" stroke="#000" stroke-width="4.0" fill="none"/>
<polyline points="186.8,936.9 210.0,911.0 233.2,798.8 256.4,692.5 279.6,849.1 302.8,847.2 326.0,795.0 349.2,733.1 372.4,704.9 395.6,681.7 418.8,713.8 442.0,749.4 465.2,793.0 488.4,867.7 511.6,914.8 534.8,876.2 558.0,853.0 581.3,990.2 604.5,911.0 627.7,897.4 650.9,801.5 674.1,832.9 697.3,938.0 720.5,976.7 743.7,969.8 766.9,975.5 790.1,954.2 813.3,918.9 836.5,989.8 859.7,968.8 882.9,953.2 906.1,988.2 929.3,1050.8 952.5,1102.4 975.7,992.1 998.9,1015.5 1022.1,971.5 1045.3,989.8 1068.5,1035.8 1091.7,1006.5 1114.9,965.5 1138.1,1016.5 1161.3,1035.8 1184.5,1054.7 1207.7,1049.8 1230.9,894.9 1254.1,983.2 1277.3,1036.4 1300.5,1049.8 1323.7,1068.1 1346.9,1021.4 1370.2,986.5 1393.4,1049.8 1416.6,1103.7 1439.8,1076.4 1463.0,1015.8 1486.2,1019.1 1509.4,1066.4 1532.6,1089.7 1555.8,1056.4 1579.0,1031.4 1602.2,1036.4 1625.4,1063.1 1648.6,1094.0 1671.8,1089.7 1695.0,1089.0 1718.2,1094.7 1741.4,962.5 1764.6,900.9 1787.8,988.2 1811.0,961.5 1834.2,954.9" fill="none" stroke="#00ff00" stroke-width="3.6" stroke-linejoin="round"/>
<g fill="none" stroke="#00ff00" stroke-width="3.6"><circle cx="186.8" cy="936.9" r="9"/><circle cx="210.0" cy="911.0" r="9"/><circle cx="233.2" cy="798.8" r="9"/><circle cx="256.4" cy="692.5" r="9"/><circle cx="279.6" cy="849.1" r="9"/><circle cx="302.8" cy="847.2" r="9"/><circle cx="326.0" cy="795.0" r="9"/><circle cx="349.2" cy="733.1" r="9"/><circle cx="372.4" cy="704.9" r="9"/><circle cx="395.6" cy="681.7" r="9"/><circle cx="418.8" cy="713.8" r="9"/><circle cx="442.0" cy="749.4" r="9"/><circle cx="465.2" cy="793.0" r="9"/><circle cx="488.4" cy="867.7" r="9"/><circle cx="511.6" cy="914.8" r="9"/><circle cx="534.8" cy="876.2" r="9"/><circle cx="558.0" cy="853.0" r="9"/><circle cx="581.3" cy="990.2" r="9"/><circle cx="604.5" cy="911.0" r="9"/><circle cx="627.7" cy="897.4" r="9"/><circle cx="650.9" cy="801.5" r="9"/><circle cx="674.1" cy="832.9" r="9"/><circle cx="697.3" cy="938.0" r="9"/><circle cx="720.5" cy="976.7" r="9"/><circle cx="743.7" cy="969.8" r="9"/><circle cx="766.9" cy="975.5" r="9"/><circle cx="790.1" cy="954.2" r="9"/><circle cx="813.3" cy="918.9" r="9"/><circle cx="836.5" cy="989.8" r="9"/><circle cx="859.7" cy="968.8" r="9"/><circle cx="882.9" cy="953.2" r="9"/><circle cx="906.1" cy="988.2" r="9"/><circle cx="929.3" cy="1050.8" r="9"/><circle cx="952.5" cy="1102.4" r="9"/><circle cx="975.7" cy="992.1" r="9"/><circle cx="998.9" cy="1015.5" r="9"/><circle cx="1022.1" cy="971.5" r="9"/><circle cx="1045.3" cy="989.8" r="9"/><circle cx="1068.5" cy="1035.8" r="9"/><circle cx="1091.7" cy="1006.5" r="9"/><circle cx="1114.9" cy="965.5" r="9"/><circle cx="1138.1" cy="1016.5" r="9"/><circle cx="1161.3" cy="1035.8" r="9"/><circle cx="1184.5" cy="1054.7" r="9"/><circle cx="1207.7" cy="1049.8" r="9"/><circle cx="1230.9" cy="894.9" r="9"/><circle cx="1254.1" cy="983.2" r="9"/><circle cx="1277.3" cy="1036.4" r="9"/><circle cx="1300.5" cy="1049.8" r="9"/><circle cx="1323.7" cy="1068.1" r="9"/><circle cx="1346.9" cy="1021.4" r="9"/><circle cx="1370.2" cy="986.5" r="9"/><circle cx="1393.4" cy="1049.8" r="9"/><circle cx="1416.6" cy="1103.7" r="9"/><circle cx="1439.8" cy="1076.4" r="9"/><circle cx="1463.0" cy="1015.8" r="9"/><circle cx="1486.2" cy="1019.1" r="9"/><circle cx="1509.4" cy="1066.4" r="9"/><circle cx="1532.6" cy="1089.7" r="9"/><circle cx="1555.8" cy="1056.4" r="9"/><circle cx="1579.0" cy="1031.4" r="9"/><circle cx="1602.2" cy="1036.4" r="9"/><circle cx="1625.4" cy="1063.1" r="9"/><circle cx="1648.6" cy="1094.0" r="9"/><circle cx="1671.8" cy="1089.7" r="9"/><circle cx="1695.0" cy="1089.0" r="9"/><circle cx="1718.2" cy="1094.7" r="9"/><circle cx="1741.4" cy="962.5" r="9"/><circle cx="1764.6" cy="900.9" r="9"/><circle cx="1787.8" cy="988.2" r="9"/><circle cx="1811.0" cy="961.5" r="9"/><circle cx="1834.2" cy="954.9" r="9"/></g>
<polyline points="186.8,903.2 210.0,936.1 233.2,967.0 256.4,905.9 279.6,838.3 302.8,809.7 326.0,842.1 349.2,868.4 372.4,899.4 395.6,801.5 418.8,800.8 442.0,841.4 465.2,843.3 488.4,886.6 511.6,959.3 534.8,929.1 558.0,905.2 581.3,994.1 604.5,935.3 627.7,911.7 650.9,876.2 674.1,878.1 697.3,928.3 720.5,957.3 743.7,932.5 766.9,969.8 790.1,1008.1 813.3,949.2 836.5,949.2 859.7,950.5 882.9,955.9 906.1,953.2 929.3,948.9 952.5,1019.1 975.7,1059.1 998.9,1052.1 1022.1,989.2 1045.3,993.1 1068.5,1037.4 1091.7,1046.4 1114.9,1005.8 1138.1,1018.8 1161.3,1041.4 1184.5,1066.4 1207.7,1047.4 1230.9,984.8 1254.1,975.8 1277.3,980.5 1300.5,1048.8 1323.7,1019.1 1346.9,1064.7 1370.2,1028.1 1393.4,1094.0 1416.6,1100.4 1439.8,1094.0 1463.0,1022.4 1486.2,964.2 1509.4,1098.0 1532.6,1074.1 1555.8,1046.4 1579.0,1013.8 1602.2,1029.8 1625.4,1053.1 1648.6,1084.7 1671.8,1049.8 1695.0,1007.5 1718.2,999.1 1741.4,870.9 1764.6,840.0 1787.8,936.5 1811.0,933.2 1834.2,903.2" fill="none" stroke="#ff0000" stroke-width="3.6" stroke-linejoin="round"/>
<g fill="#ff0000"><circle cx="186.8" cy="903.2" r="9.3"/><circle cx="210.0" cy="936.1" r="9.3"/><circle cx="233.2" cy="967.0" r="9.3"/><circle cx="256.4" cy="905.9" r="9.3"/><circle cx="279.6" cy="838.3" r="9.3"/><circle cx="302.8" cy="809.7" r="9.3"/><circle cx="326.0" cy="842.1" r="9.3"/><circle cx="349.2" cy="868.4" r="9.3"/><circle cx="372.4" cy="899.4" r="9.3"/><circle cx="395.6" cy="801.5" r="9.3"/><circle cx="418.8" cy="800.8" r="9.3"/><circle cx="442.0" cy="841.4" r="9.3"/><circle cx="465.2" cy="843.3" r="9.3"/><circle cx="488.4" cy="886.6" r="9.3"/><circle cx="511.6" cy="959.3" r="9.3"/><circle cx="534.8" cy="929.1" r="9.3"/><circle cx="558.0" cy="905.2" r="9.3"/><circle cx="581.3" cy="994.1" r="9.3"/><circle cx="604.5" cy="935.3" r="9.3"/><circle cx="627.7" cy="911.7" r="9.3"/><circle cx="650.9" cy="876.2" r="9.3"/><circle cx="674.1" cy="878.1" r="9.3"/><circle cx="697.3" cy="928.3" r="9.3"/><circle cx="720.5" cy="957.3" r="9.3"/><circle cx="743.7" cy="932.5" r="9.3"/><circle cx="766.9" cy="969.8" r="9.3"/><circle cx="790.1" cy="1008.1" r="9.3"/><circle cx="813.3" cy="949.2" r="9.3"/><circle cx="836.5" cy="949.2" r="9.3"/><circle cx="859.7" cy="950.5" r="9.3"/><circle cx="882.9" cy="955.9" r="9.3"/><circle cx="906.1" cy="953.2" r="9.3"/><circle cx="929.3" cy="948.9" r="9.3"/><circle cx="952.5" cy="1019.1" r="9.3"/><circle cx="975.7" cy="1059.1" r="9.3"/><circle cx="998.9" cy="1052.1" r="9.3"/><circle cx="1022.1" cy="989.2" r="9.3"/><circle cx="1045.3" cy="993.1" r="9.3"/><circle cx="1068.5" cy="1037.4" r="9.3"/><circle cx="1091.7" cy="1046.4" r="9.3"/><circle cx="1114.9" cy="1005.8" r="9.3"/><circle cx="1138.1" cy="1018.8" r="9.3"/><circle cx="1161.3" cy="1041.4" r="9.3"/><circle cx="1184.5" cy="1066.4" r="9.3"/><circle cx="1207.7" cy="1047.4" r="9.3"/><circle cx="1230.9" cy="984.8" r="9.3"/><circle cx="1254.1" cy="975.8" r="9.3"/><circle cx="1277.3" cy="980.5" r="9.3"/><circle cx="1300.5" cy="1048.8" r="9.3"/><circle cx="1323.7" cy="1019.1" r="9.3"/><circle cx="1346.9" cy="1064.7" r="9.3"/><circle cx="1370.2" cy="1028.1" r="9.3"/><circle cx="1393.4" cy="1094.0" r="9.3"/><circle cx="1416.6" cy="1100.4" r="9.3"/><circle cx="1439.8" cy="1094.0" r="9.3"/><circle cx="1463.0" cy="1022.4" r="9.3"/><circle cx="1486.2" cy="964.2" r="9.3"/><circle cx="1509.4" cy="1098.0" r="9.3"/><circle cx="1532.6" cy="1074.1" r="9.3"/><circle cx="1555.8" cy="1046.4" r="9.3"/><circle cx="1579.0" cy="1013.8" r="9.3"/><circle cx="1602.2" cy="1029.8" r="9.3"/><circle cx="1625.4" cy="1053.1" r="9.3"/><circle cx="1648.6" cy="1084.7" r="9.3"/><circle cx="1671.8" cy="1049.8" r="9.3"/><circle cx="1695.0" cy="1007.5" r="9.3"/><circle cx="1718.2" cy="999.1" r="9.3"/><circle cx="1741.4" cy="870.9" r="9.3"/><circle cx="1764.6" cy="840.0" r="9.3"/><circle cx="1787.8" cy="936.5" r="9.3"/><circle cx="1811.0" cy="933.2" r="9.3"/><circle cx="1834.2" cy="903.2" r="9.3"/></g>
<polyline points="186.8,1005.7 210.0,1007.6 233.2,965.1 256.4,904.0 279.6,878.9 302.8,872.3 326.0,876.2 349.2,861.9 372.4,830.5 395.6,799.6 418.8,827.1 442.0,858.8 465.2,867.3 488.4,910.2 511.6,941.9 534.8,933.0 558.0,908.2 581.3,996.0 604.5,967.0 627.7,928.3 650.9,905.9 674.1,892.4 697.3,924.5 720.5,967.0 743.7,949.2 766.9,926.6 790.1,878.9 813.3,900.9 836.5,929.9 859.7,964.8 882.9,1003.1 906.1,971.5 929.3,992.1 952.5,1059.1 975.7,1083.1 998.9,1069.1 1022.1,1027.1 1045.3,1020.8 1068.5,1057.4 1091.7,1097.4 1114.9,1106.4 1138.1,1105.7 1161.3,1083.1 1184.5,1075.7 1207.7,1068.1 1230.9,1052.1 1254.1,1021.4 1277.3,1005.5 1300.5,1032.1 1323.7,1085.7 1346.9,1057.4 1370.2,1048.1 1393.4,1049.8 1416.6,1051.4 1439.8,1046.4 1463.0,1029.8 1486.2,991.5 1509.4,1077.1 1532.6,1066.4 1555.8,1055.7 1579.0,1053.1 1602.2,1047.4 1625.4,1056.4 1648.6,1073.1 1671.8,1086.4 1695.0,1093.7 1718.2,1074.1 1741.4,980.8 1764.6,925.9 1787.8,957.2 1811.0,975.5 1834.2,975.8" fill="none" stroke="#0000ff" stroke-width="3.6" stroke-linejoin="round"/>
<g fill="#0000ff"><circle cx="186.8" cy="1005.7" r="9.3"/><circle cx="210.0" cy="1007.6" r="9.3"/><circle cx="233.2" cy="965.1" r="9.3"/><circle cx="256.4" cy="904.0" r="9.3"/><circle cx="279.6" cy="878.9" r="9.3"/><circle cx="302.8" cy="872.3" r="9.3"/><circle cx="326.0" cy="876.2" r="9.3"/><circle cx="349.2" cy="861.9" r="9.3"/><circle cx="372.4" cy="830.5" r="9.3"/><circle cx="395.6" cy="799.6" r="9.3"/><circle cx="418.8" cy="827.1" r="9.3"/><circle cx="442.0" cy="858.8" r="9.3"/><circle cx="465.2" cy="867.3" r="9.3"/><circle cx="488.4" cy="910.2" r="9.3"/><circle cx="511.6" cy="941.9" r="9.3"/><circle cx="534.8" cy="933.0" r="9.3"/><circle cx="558.0" cy="908.2" r="9.3"/><circle cx="581.3" cy="996.0" r="9.3"/><circle cx="604.5" cy="967.0" r="9.3"/><circle cx="627.7" cy="928.3" r="9.3"/><circle cx="650.9" cy="905.9" r="9.3"/><circle cx="674.1" cy="892.4" r="9.3"/><circle cx="697.3" cy="924.5" r="9.3"/><circle cx="720.5" cy="967.0" r="9.3"/><circle cx="743.7" cy="949.2" r="9.3"/><circle cx="766.9" cy="926.6" r="9.3"/><circle cx="790.1" cy="878.9" r="9.3"/><circle cx="813.3" cy="900.9" r="9.3"/><circle cx="836.5" cy="929.9" r="9.3"/><circle cx="859.7" cy="964.8" r="9.3"/><circle cx="882.9" cy="1003.1" r="9.3"/><circle cx="906.1" cy="971.5" r="9.3"/><circle cx="929.3" cy="992.1" r="9.3"/><circle cx="952.5" cy="1059.1" r="9.3"/><circle cx="975.7" cy="1083.1" r="9.3"/><circle cx="998.9" cy="1069.1" r="9.3"/><circle cx="1022.1" cy="1027.1" r="9.3"/><circle cx="1045.3" cy="1020.8" r="9.3"/><circle cx="1068.5" cy="1057.4" r="9.3"/><circle cx="1091.7" cy="1097.4" r="9.3"/><circle cx="1114.9" cy="1106.4" r="9.3"/><circle cx="1138.1" cy="1105.7" r="9.3"/><circle cx="1161.3" cy="1083.1" r="9.3"/><circle cx="1184.5" cy="1075.7" r="9.3"/><circle cx="1207.7" cy="1068.1" r="9.3"/><circle cx="1230.9" cy="1052.1" r="9.3"/><circle cx="1254.1" cy="1021.4" r="9.3"/><circle cx="1277.3" cy="1005.5" r="9.3"/><circle cx="1300.5" cy="1032.1" r="9.3"/><circle cx="1323.7" cy="1085.7" r="9.3"/><circle cx="1346.9" cy="1057.4" r="9.3"/><circle cx="1370.2" cy="1048.1" r="9.3"/><circle cx="1393.4" cy="1049.8" r="9.3"/><circle cx="1416.6" cy="1051.4" r="9.3"/><circle cx="1439.8" cy="1046.4" r="9.3"/><circle cx="1463.0" cy="1029.8" r="9.3"/><circle cx="1486.2" cy="991.5" r="9.3"/><circle cx="1509.4" cy="1077.1" r="9.3"/><circle cx="1532.6" cy="1066.4" r="9.3"/><circle cx="1555.8" cy="1055.7" r="9.3"/><circle cx="1579.0" cy="1053.1" r="9.3"/><circle cx="1602.2" cy="1047.4" r="9.3"/><circle cx="1625.4" cy="1056.4" r="9.3"/><circle cx="1648.6" cy="1073.1" r="9.3"/><circle cx="1671.8" cy="1086.4" r="9.3"/><circle cx="1695.0" cy="1093.7" r="9.3"/><circle cx="1718.2" cy="1074.1" r="9.3"/><circle cx="1741.4" cy="980.8" r="9.3"/><circle cx="1764.6" cy="925.9" r="9.3"/><circle cx="1787.8" cy="957.2" r="9.3"/><circle cx="1811.0" cy="975.5" r="9.3"/><circle cx="1834.2" cy="975.8" r="9.3"/></g>
<polyline points="186.8,1069.0 210.0,1067.1 233.2,1066.7 256.4,1046.6 279.6,1063.6 302.8,1040.4 326.0,1046.6 349.2,1086.9 372.4,1082.7 395.6,1033.4 418.8,1047.3 442.0,1046.6 465.2,1021.7 488.4,1028.0 511.6,1028.0 534.8,1015.2 558.0,1046.6 581.3,1040.4 604.5,1082.7 627.7,1051.5 650.9,1047.3 674.1,1051.3 697.3,1039.2 720.5,1051.3 743.7,1076.4 766.9,1094.7 790.1,1069.7 813.3,1064.7 836.5,1069.7 859.7,1083.1 882.9,1064.7 906.1,1069.7 929.3,1050.8 952.5,1083.1 975.7,1068.1 998.9,1033.1 1022.1,1013.8 1045.3,1021.4 1068.5,1021.4 1091.7,1046.4 1114.9,1058.1 1138.1,1086.4 1161.3,1057.4 1184.5,1039.8 1207.7,1046.4 1230.9,1050.8 1254.1,1050.8 1277.3,1076.4 1300.5,1065.4 1323.7,1068.1 1346.9,1087.4 1370.2,1094.0 1393.4,1075.7 1416.6,1064.1 1439.8,1069.1 1463.0,1046.4 1486.2,1046.4 1509.4,1046.4 1532.6,1074.7 1555.8,1046.4 1579.0,1046.4 1602.2,1049.1 1625.4,1050.4 1648.6,1050.4 1671.8,1049.8 1695.0,1032.1 1718.2,1064.7 1741.4,1099.7 1764.6,1045.8 1787.8,1064.7 1811.0,1058.1 1834.2,1065.4" fill="none" stroke="#000000" stroke-width="3.6" stroke-dasharray="17 17.3" stroke-dashoffset="0"/>
<g fill="none" stroke="#000000" stroke-width="3.6"><circle cx="186.8" cy="1069.0" r="9"/><circle cx="210.0" cy="1067.1" r="9"/><circle cx="233.2" cy="1066.7" r="9"/><circle cx="256.4" cy="1046.6" r="9"/><circle cx="279.6" cy="1063.6" r="9"/><circle cx="302.8" cy="1040.4" r="9"/><circle cx="326.0" cy="1046.6" r="9"/><circle cx="349.2" cy="1086.9" r="9"/><circle cx="372.4" cy="1082.7" r="9"/><circle cx="395.6" cy="1033.4" r="9"/><circle cx="418.8" cy="1047.3" r="9"/><circle cx="442.0" cy="1046.6" r="9"/><circle cx="465.2" cy="1021.7" r="9"/><circle cx="488.4" cy="1028.0" r="9"/><circle cx="511.6" cy="1028.0" r="9"/><circle cx="534.8" cy="1015.2" r="9"/><circle cx="558.0" cy="1046.6" r="9"/><circle cx="581.3" cy="1040.4" r="9"/><circle cx="604.5" cy="1082.7" r="9"/><circle cx="627.7" cy="1051.5" r="9"/><circle cx="650.9" cy="1047.3" r="9"/><circle cx="674.1" cy="1051.3" r="9"/><circle cx="697.3" cy="1039.2" r="9"/><circle cx="720.5" cy="1051.3" r="9"/><circle cx="743.7" cy="1076.4" r="9"/><circle cx="766.9" cy="1094.7" r="9"/><circle cx="790.1" cy="1069.7" r="9"/><circle cx="813.3" cy="1064.7" r="9"/><circle cx="836.5" cy="1069.7" r="9"/><circle cx="859.7" cy="1083.1" r="9"/><circle cx="882.9" cy="1064.7" r="9"/><circle cx="906.1" cy="1069.7" r="9"/><circle cx="929.3" cy="1050.8" r="9"/><circle cx="952.5" cy="1083.1" r="9"/><circle cx="975.7" cy="1068.1" r="9"/><circle cx="998.9" cy="1033.1" r="9"/><circle cx="1022.1" cy="1013.8" r="9"/><circle cx="1045.3" cy="1021.4" r="9"/><circle cx="1068.5" cy="1021.4" r="9"/><circle cx="1091.7" cy="1046.4" r="9"/><circle cx="1114.9" cy="1058.1" r="9"/><circle cx="1138.1" cy="1086.4" r="9"/><circle cx="1161.3" cy="1057.4" r="9"/><circle cx="1184.5" cy="1039.8" r="9"/><circle cx="1207.7" cy="1046.4" r="9"/><circle cx="1230.9" cy="1050.8" r="9"/><circle cx="1254.1" cy="1050.8" r="9"/><circle cx="1277.3" cy="1076.4" r="9"/><circle cx="1300.5" cy="1065.4" r="9"/><circle cx="1323.7" cy="1068.1" r="9"/><circle cx="1346.9" cy="1087.4" r="9"/><circle cx="1370.2" cy="1094.0" r="9"/><circle cx="1393.4" cy="1075.7" r="9"/><circle cx="1416.6" cy="1064.1" r="9"/><circle cx="1439.8" cy="1069.1" r="9"/><circle cx="1463.0" cy="1046.4" r="9"/><circle cx="1486.2" cy="1046.4" r="9"/><circle cx="1509.4" cy="1046.4" r="9"/><circle cx="1532.6" cy="1074.7" r="9"/><circle cx="1555.8" cy="1046.4" r="9"/><circle cx="1579.0" cy="1046.4" r="9"/><circle cx="1602.2" cy="1049.1" r="9"/><circle cx="1625.4" cy="1050.4" r="9"/><circle cx="1648.6" cy="1050.4" r="9"/><circle cx="1671.8" cy="1049.8" r="9"/><circle cx="1695.0" cy="1032.1" r="9"/><circle cx="1718.2" cy="1064.7" r="9"/><circle cx="1741.4" cy="1099.7" r="9"/><circle cx="1764.6" cy="1045.8" r="9"/><circle cx="1787.8" cy="1064.7" r="9"/><circle cx="1811.0" cy="1058.1" r="9"/><circle cx="1834.2" cy="1065.4" r="9"/></g>
<path d="M185.5 638.1H1835.9V1121.0M326.0 638.1v16M511.6 638.1v16M697.3 638.1v16M882.9 638.1v16M1068.5 638.1v16M1254.1 638.1v16M1439.8 638.1v16M1625.4 638.1v16M1811.0 638.1v16M1835.9 758.5h-16M1835.9 878.7h-16M1835.9 998.9h-16" stroke="#000" stroke-width="4.0" fill="none"/>
<g font-family="'Liberation Serif', 'Times New Roman', serif" font-size="62.5" fill="#000" stroke="#000" stroke-width="0.6" stroke-linejoin="round">
<text transform="translate(164.5,652.5) scale(1,1.02)" text-anchor="end">8</text>
<text transform="translate(164.5,772.8) scale(1,1.02)" text-anchor="end">6</text>
<text transform="translate(164.5,893.0) scale(1,1.02)" text-anchor="end">4</text>
<text transform="translate(164.5,1013.2) scale(1,1.02)" text-anchor="end">2</text>
<text transform="translate(164.5,1133.3) scale(1,1.02)" text-anchor="end">0</text>
<text transform="translate(328.5,1180.5) scale(1,1.02)" text-anchor="middle">06:00</text>
<text transform="translate(514.1,1180.5) scale(1,1.02)" text-anchor="middle">14:00</text>
<text transform="translate(699.8,1180.5) scale(1,1.02)" text-anchor="middle">22:00</text>
<text transform="translate(885.4,1180.5) scale(1,1.02)" text-anchor="middle">06:00</text>
<text transform="translate(1071.0,1180.5) scale(1,1.02)" text-anchor="middle">14:00</text>
<text transform="translate(1256.6,1180.5) scale(1,1.02)" text-anchor="middle">22:00</text>
<text transform="translate(1442.3,1180.5) scale(1,1.02)" text-anchor="middle">06:00</text>
<text transform="translate(1627.9,1180.5) scale(1,1.02)" text-anchor="middle">14:00</text>
<text transform="translate(1813.5,1180.5) scale(1,1.02)" text-anchor="middle">22:00</text>
</g>
</g>
<g id="panel-d">
<path d="M1975.9 637.1V1119.7H3671.8M2118.8 1119.7v-18M2309.5 1119.7v-18M2500.3 1119.7v-18M2691.0 1119.7v-18M2881.8 1119.7v-18M3072.5 1119.7v-18M3263.3 1119.7v-18M3454.0 1119.7v-18M3644.8 1119.7v-18M1975.9 759.2h16M1975.9 879.3h16M1975.9 999.5h16" stroke="#000" stroke-width="4.0" fill="none"/>
<polyline points="1975.7,901.3 1999.5,1017.3 2023.4,1083.5 2047.2,1085.6 2071.1,1096.1 2094.9,1098.2 2118.8,1100.3 2142.6,971.7 2166.5,865.7 2190.3,834.3 2214.1,786.9 2238.0,771.4 2261.8,816.2 2285.7,796.6 2309.5,791.1 2333.4,848.9 2357.2,856.5 2381.0,886.6 2404.9,913.0 2428.7,968.3 2452.6,1018.6 2476.4,1015.2 2500.3,1008.1 2524.1,1070.9 2548.0,1110.7 2571.8,1077.2 2595.6,1062.6 2619.5,1059.6 2643.3,1015.2 2667.2,991.3 2691.0,1004.7 2714.9,1030.3 2738.7,964.1 2762.6,945.3 2786.4,928.5 2810.2,946.5 2834.1,944.0 2857.9,915.9 2881.8,911.8 2905.6,911.8 2929.5,921.4 2953.3,958.7 2977.1,1016.5 3001.0,1077.2 3024.8,1033.2 3048.7,862.3 3072.5,856.0 3096.4,857.3 3120.2,834.3 3144.1,861.5 3167.9,966.2 3191.7,1039.5 3215.6,1050.0 3239.4,1017.3 3263.3,976.7 3287.1,1004.7 3311.0,1024.9 3334.8,979.6 3358.7,980.9 3382.5,1017.7 3406.3,1079.3 3430.2,976.7 3454.0,971.7 3477.9,866.9 3501.7,923.1 3525.6,945.3 3549.4,922.2 3573.2,856.5 3597.1,804.9 3620.9,793.2 3644.8,807.0 3668.6,878.2" fill="none" stroke="#00ff00" stroke-width="3.6" stroke-linejoin="round"/>
<g fill="none" stroke="#00ff00" stroke-width="3.6"><circle cx="1975.7" cy="901.3" r="9"/><circle cx="1999.5" cy="1017.3" r="9"/><circle cx="2023.4" cy="1083.5" r="9"/><circle cx="2047.2" cy="1085.6" r="9"/><circle cx="2071.1" cy="1096.1" r="9"/><circle cx="2094.9" cy="1098.2" r="9"/><circle cx="2118.8" cy="1100.3" r="9"/><circle cx="2142.6" cy="971.7" r="9"/><circle cx="2166.5" cy="865.7" r="9"/><circle cx="2190.3" cy="834.3" r="9"/><circle cx="2214.1" cy="786.9" r="9"/><circle cx="2238.0" cy="771.4" r="9"/><circle cx="2261.8" cy="816.2" r="9"/><circle cx="2285.7" cy="796.6" r="9"/><circle cx="2309.5" cy="791.1" r="9"/><circle cx="2333.4" cy="848.9" r="9"/><circle cx="2357.2" cy="856.5" r="9"/><circle cx="2381.0" cy="886.6" r="9"/><circle cx="2404.9" cy="913.0" r="9"/><circle cx="2428.7" cy="968.3" r="9"/><circle cx="2452.6" cy="1018.6" r="9"/><circle cx="2476.4" cy="1015.2" r="9"/><circle cx="2500.3" cy="1008.1" r="9"/><circle cx="2524.1" cy="1070.9" r="9"/><circle cx="2548.0" cy="1110.7" r="9"/><circle cx="2571.8" cy="1077.2" r="9"/><circle cx="2595.6" cy="1062.6" r="9"/><circle cx="2619.5" cy="1059.6" r="9"/><circle cx="2643.3" cy="1015.2" r="9"/><circle cx="2667.2" cy="991.3" r="9"/><circle cx="2691.0" cy="1004.7" r="9"/><circle cx="2714.9" cy="1030.3" r="9"/><circle cx="2738.7" cy="964.1" r="9"/><circle cx="2762.6" cy="945.3" r="9"/><circle cx="2786.4" cy="928.5" r="9"/><circle cx="2810.2" cy="946.5" r="9"/><circle cx="2834.1" cy="944.0" r="9"/><circle cx="2857.9" cy="915.9" r="9"/><circle cx="2881.8" cy="911.8" r="9"/><circle cx="2905.6" cy="911.8" r="9"/><circle cx="2929.5" cy="921.4" r="9"/><circle cx="2953.3" cy="958.7" r="9"/><circle cx="2977.1" cy="1016.5" r="9"/><circle cx="3001.0" cy="1077.2" r="9"/><circle cx="3024.8" cy="1033.2" r="9"/><circle cx="3048.7" cy="862.3" r="9"/><circle cx="3072.5" cy="856.0" r="9"/><circle cx="3096.4" cy="857.3" r="9"/><circle cx="3120.2" cy="834.3" r="9"/><circle cx="3144.1" cy="861.5" r="9"/><circle cx="3167.9" cy="966.2" r="9"/><circle cx="3191.7" cy="1039.5" r="9"/><circle cx="3215.6" cy="1050.0" r="9"/><circle cx="3239.4" cy="1017.3" r="9"/><circle cx="3263.3" cy="976.7" r="9"/><circle cx="3287.1" cy="1004.7" r="9"/><circle cx="3311.0" cy="1024.9" r="9"/><circle cx="3334.8" cy="979.6" r="9"/><circle cx="3358.7" cy="980.9" r="9"/><circle cx="3382.5" cy="1017.7" r="9"/><circle cx="3406.3" cy="1079.3" r="9"/><circle cx="3430.2" cy="976.7" r="9"/><circle cx="3454.0" cy="971.7" r="9"/><circle cx="3477.9" cy="866.9" r="9"/><circle cx="3501.7" cy="923.1" r="9"/><circle cx="3525.6" cy="945.3" r="9"/><circle cx="3549.4" cy="922.2" r="9"/><circle cx="3573.2" cy="856.5" r="9"/><circle cx="3597.1" cy="804.9" r="9"/><circle cx="3620.9" cy="793.2" r="9"/><circle cx="3644.8" cy="807.0" r="9"/><circle cx="3668.6" cy="878.2" r="9"/></g>
<polyline points="1975.7,951.5 1999.5,1029.9 2023.4,1086.9 2047.2,1094.0 2071.1,1085.6 2094.9,1064.7 2118.8,1024.0 2142.6,978.8 2166.5,931.9 2190.3,897.1 2214.1,851.0 2238.0,841.8 2261.8,857.3 2285.7,852.3 2309.5,853.1 2333.4,853.1 2357.2,840.5 2381.0,874.9 2404.9,908.8 2428.7,960.8 2452.6,1024.9 2476.4,996.8 2500.3,1029.0 2524.1,1073.0 2548.0,1037.4 2571.8,1087.7 2595.6,1071.8 2619.5,1072.2 2643.3,1066.7 2667.2,1062.6 2691.0,980.9 2714.9,910.5 2738.7,947.4 2762.6,1001.8 2786.4,1003.9 2810.2,973.3 2834.1,959.9 2857.9,950.7 2881.8,944.0 2905.6,950.7 2929.5,944.0 2953.3,962.0 2977.1,980.9 3001.0,1037.4 3024.8,1024.9 3048.7,895.0 3072.5,882.4 3096.4,909.7 3120.2,869.0 3144.1,915.9 3167.9,1035.3 3191.7,1087.7 3215.6,1079.3 3239.4,1080.2 3263.3,1070.9 3287.1,1083.5 3311.0,1035.3 3334.8,1029.0 3358.7,1044.5 3382.5,1061.7 3406.3,1001.8 3430.2,978.8 3454.0,981.7 3477.9,915.9 3501.7,931.9 3525.6,968.3 3549.4,910.5 3573.2,899.2 3597.1,865.7 3620.9,862.7 3644.8,868.6 3668.6,842.6" fill="none" stroke="#ff0000" stroke-width="3.6" stroke-linejoin="round"/>
<g fill="#ff0000"><circle cx="1975.7" cy="951.5" r="9.3"/><circle cx="1999.5" cy="1029.9" r="9.3"/><circle cx="2023.4" cy="1086.9" r="9.3"/><circle cx="2047.2" cy="1094.0" r="9.3"/><circle cx="2071.1" cy="1085.6" r="9.3"/><circle cx="2094.9" cy="1064.7" r="9.3"/><circle cx="2118.8" cy="1024.0" r="9.3"/><circle cx="2142.6" cy="978.8" r="9.3"/><circle cx="2166.5" cy="931.9" r="9.3"/><circle cx="2190.3" cy="897.1" r="9.3"/><circle cx="2214.1" cy="851.0" r="9.3"/><circle cx="2238.0" cy="841.8" r="9.3"/><circle cx="2261.8" cy="857.3" r="9.3"/><circle cx="2285.7" cy="852.3" r="9.3"/><circle cx="2309.5" cy="853.1" r="9.3"/><circle cx="2333.4" cy="853.1" r="9.3"/><circle cx="2357.2" cy="840.5" r="9.3"/><circle cx="2381.0" cy="874.9" r="9.3"/><circle cx="2404.9" cy="908.8" r="9.3"/><circle cx="2428.7" cy="960.8" r="9.3"/><circle cx="2452.6" cy="1024.9" r="9.3"/><circle cx="2476.4" cy="996.8" r="9.3"/><circle cx="2500.3" cy="1029.0" r="9.3"/><circle cx="2524.1" cy="1073.0" r="9.3"/><circle cx="2548.0" cy="1037.4" r="9.3"/><circle cx="2571.8" cy="1087.7" r="9.3"/><circle cx="2595.6" cy="1071.8" r="9.3"/><circle cx="2619.5" cy="1072.2" r="9.3"/><circle cx="2643.3" cy="1066.7" r="9.3"/><circle cx="2667.2" cy="1062.6" r="9.3"/><circle cx="2691.0" cy="980.9" r="9.3"/><circle cx="2714.9" cy="910.5" r="9.3"/><circle cx="2738.7" cy="947.4" r="9.3"/><circle cx="2762.6" cy="1001.8" r="9.3"/><circle cx="2786.4" cy="1003.9" r="9.3"/><circle cx="2810.2" cy="973.3" r="9.3"/><circle cx="2834.1" cy="959.9" r="9.3"/><circle cx="2857.9" cy="950.7" r="9.3"/><circle cx="2881.8" cy="944.0" r="9.3"/><circle cx="2905.6" cy="950.7" r="9.3"/><circle cx="2929.5" cy="944.0" r="9.3"/><circle cx="2953.3" cy="962.0" r="9.3"/><circle cx="2977.1" cy="980.9" r="9.3"/><circle cx="3001.0" cy="1037.4" r="9.3"/><circle cx="3024.8" cy="1024.9" r="9.3"/><circle cx="3048.7" cy="895.0" r="9.3"/><circle cx="3072.5" cy="882.4" r="9.3"/><circle cx="3096.4" cy="909.7" r="9.3"/><circle cx="3120.2" cy="869.0" r="9.3"/><circle cx="3144.1" cy="915.9" r="9.3"/><circle cx="3167.9" cy="1035.3" r="9.3"/><circle cx="3191.7" cy="1087.7" r="9.3"/><circle cx="3215.6" cy="1079.3" r="9.3"/><circle cx="3239.4" cy="1080.2" r="9.3"/><circle cx="3263.3" cy="1070.9" r="9.3"/><circle cx="3287.1" cy="1083.5" r="9.3"/><circle cx="3311.0" cy="1035.3" r="9.3"/><circle cx="3334.8" cy="1029.0" r="9.3"/><circle cx="3358.7" cy="1044.5" r="9.3"/><circle cx="3382.5" cy="1061.7" r="9.3"/><circle cx="3406.3" cy="1001.8" r="9.3"/><circle cx="3430.2" cy="978.8" r="9.3"/><circle cx="3454.0" cy="981.7" r="9.3"/><circle cx="3477.9" cy="915.9" r="9.3"/><circle cx="3501.7" cy="931.9" r="9.3"/><circle cx="3525.6" cy="968.3" r="9.3"/><circle cx="3549.4" cy="910.5" r="9.3"/><circle cx="3573.2" cy="899.2" r="9.3"/><circle cx="3597.1" cy="865.7" r="9.3"/><circle cx="3620.9" cy="862.7" r="9.3"/><circle cx="3644.8" cy="868.6" r="9.3"/><circle cx="3668.6" cy="842.6" r="9.3"/></g>
<polyline points="1975.7,1083.5 1999.5,1065.5 2023.4,1054.2 2047.2,1070.9 2071.1,1098.2 2094.9,1111.6 2118.8,1066.7 2142.6,973.7 2166.5,906.7 2190.3,899.2 2214.1,874.9 2238.0,852.3 2261.8,870.7 2285.7,904.2 2309.5,872.8 2333.4,926.4 2357.2,920.1 2381.0,942.3 2404.9,954.5 2428.7,1025.7 2452.6,1001.8 2476.4,1025.7 2500.3,1035.3 2524.1,1064.7 2548.0,1095.2 2571.8,1083.5 2595.6,1056.3 2619.5,1089.8 2643.3,1083.5 2667.2,1052.9 2691.0,1049.2 2714.9,1003.9 2738.7,1006.0 2762.6,990.5 2786.4,967.5 2810.2,962.0 2834.1,967.5 2857.9,965.0 2881.8,963.3 2905.6,974.6 2929.5,994.3 2953.3,1038.7 2977.1,1072.2 3001.0,1106.5 3024.8,1050.8 3048.7,978.8 3072.5,947.4 3096.4,898.3 3120.2,886.6 3144.1,901.3 3167.9,976.7 3191.7,1096.1 3215.6,1093.1 3239.4,1085.6 3263.3,1055.0 3287.1,1064.7 3311.0,1018.6 3334.8,999.7 3358.7,1016.5 3382.5,1017.3 3406.3,1045.0 3430.2,1112.0 3454.0,1070.9 3477.9,1026.1 3501.7,999.7 3525.6,1112.0 3549.4,1008.1 3573.2,1083.5 3597.1,924.3 3620.9,882.4 3644.8,877.4 3668.6,915.9" fill="none" stroke="#0000ff" stroke-width="3.6" stroke-linejoin="round"/>
<g fill="#0000ff"><circle cx="1975.7" cy="1083.5" r="9.3"/><circle cx="1999.5" cy="1065.5" r="9.3"/><circle cx="2023.4" cy="1054.2" r="9.3"/><circle cx="2047.2" cy="1070.9" r="9.3"/><circle cx="2071.1" cy="1098.2" r="9.3"/><circle cx="2094.9" cy="1111.6" r="9.3"/><circle cx="2118.8" cy="1066.7" r="9.3"/><circle cx="2142.6" cy="973.7" r="9.3"/><circle cx="2166.5" cy="906.7" r="9.3"/><circle cx="2190.3" cy="899.2" r="9.3"/><circle cx="2214.1" cy="874.9" r="9.3"/><circle cx="2238.0" cy="852.3" r="9.3"/><circle cx="2261.8" cy="870.7" r="9.3"/><circle cx="2285.7" cy="904.2" r="9.3"/><circle cx="2309.5" cy="872.8" r="9.3"/><circle cx="2333.4" cy="926.4" r="9.3"/><circle cx="2357.2" cy="920.1" r="9.3"/><circle cx="2381.0" cy="942.3" r="9.3"/><circle cx="2404.9" cy="954.5" r="9.3"/><circle cx="2428.7" cy="1025.7" r="9.3"/><circle cx="2452.6" cy="1001.8" r="9.3"/><circle cx="2476.4" cy="1025.7" r="9.3"/><circle cx="2500.3" cy="1035.3" r="9.3"/><circle cx="2524.1" cy="1064.7" r="9.3"/><circle cx="2548.0" cy="1095.2" r="9.3"/><circle cx="2571.8" cy="1083.5" r="9.3"/><circle cx="2595.6" cy="1056.3" r="9.3"/><circle cx="2619.5" cy="1089.8" r="9.3"/><circle cx="2643.3" cy="1083.5" r="9.3"/><circle cx="2667.2" cy="1052.9" r="9.3"/><circle cx="2691.0" cy="1049.2" r="9.3"/><circle cx="2714.9" cy="1003.9" r="9.3"/><circle cx="2738.7" cy="1006.0" r="9.3"/><circle cx="2762.6" cy="990.5" r="9.3"/><circle cx="2786.4" cy="967.5" r="9.3"/><circle cx="2810.2" cy="962.0" r="9.3"/><circle cx="2834.1" cy="967.5" r="9.3"/><circle cx="2857.9" cy="965.0" r="9.3"/><circle cx="2881.8" cy="963.3" r="9.3"/><circle cx="2905.6" cy="974.6" r="9.3"/><circle cx="2929.5" cy="994.3" r="9.3"/><circle cx="2953.3" cy="1038.7" r="9.3"/><circle cx="2977.1" cy="1072.2" r="9.3"/><circle cx="3001.0" cy="1106.5" r="9.3"/><circle cx="3024.8" cy="1050.8" r="9.3"/><circle cx="3048.7" cy="978.8" r="9.3"/><circle cx="3072.5" cy="947.4" r="9.3"/><circle cx="3096.4" cy="898.3" r="9.3"/><circle cx="3120.2" cy="886.6" r="9.3"/><circle cx="3144.1" cy="901.3" r="9.3"/><circle cx="3167.9" cy="976.7" r="9.3"/><circle cx="3191.7" cy="1096.1" r="9.3"/><circle cx="3215.6" cy="1093.1" r="9.3"/><circle cx="3239.4" cy="1085.6" r="9.3"/><circle cx="3263.3" cy="1055.0" r="9.3"/><circle cx="3287.1" cy="1064.7" r="9.3"/><circle cx="3311.0" cy="1018.6" r="9.3"/><circle cx="3334.8" cy="999.7" r="9.3"/><circle cx="3358.7" cy="1016.5" r="9.3"/><circle cx="3382.5" cy="1017.3" r="9.3"/><circle cx="3406.3" cy="1045.0" r="9.3"/><circle cx="3430.2" cy="1112.0" r="9.3"/><circle cx="3454.0" cy="1070.9" r="9.3"/><circle cx="3477.9" cy="1026.1" r="9.3"/><circle cx="3501.7" cy="999.7" r="9.3"/><circle cx="3525.6" cy="1112.0" r="9.3"/><circle cx="3549.4" cy="1008.1" r="9.3"/><circle cx="3573.2" cy="1083.5" r="9.3"/><circle cx="3597.1" cy="924.3" r="9.3"/><circle cx="3620.9" cy="882.4" r="9.3"/><circle cx="3644.8" cy="877.4" r="9.3"/><circle cx="3668.6" cy="915.9" r="9.3"/></g>
<polyline points="1975.7,1083.5 1999.5,1077.2 2023.4,1060.5 2047.2,1083.5 2071.1,1100.3 2094.9,1059.2 2118.8,1087.7 2142.6,1076.0 2166.5,1070.1 2190.3,1052.1 2214.1,1029.0 2238.0,1033.2 2261.8,1049.2 2285.7,1076.4 2309.5,1039.5 2333.4,1069.7 2357.2,1040.4 2381.0,1029.0 2404.9,1015.2 2428.7,1058.4 2452.6,1051.2 2476.4,1064.7 2500.3,1087.7 2524.1,1047.9 2548.0,1052.1 2571.8,1076.4 2595.6,1087.7 2619.5,1096.1 2643.3,1076.4 2667.2,1087.7 2691.0,1095.2 2714.9,1076.4 2738.7,1076.4 2762.6,1058.4 2786.4,1033.2 2810.2,1059.2 2834.1,1058.4 2857.9,1029.0 2881.8,1033.2 2905.6,1051.2 2929.5,1069.7 2953.3,1040.4 2977.1,1015.2 3001.0,1039.5 3024.8,1052.1 3048.7,1029.0 3072.5,1064.7 3096.4,1064.7 3120.2,1083.5 3144.1,1070.1 3167.9,1083.5 3191.7,1102.4 3215.6,1069.7 3239.4,1075.1 3263.3,1076.4 3287.1,1083.5 3311.0,1076.4 3334.8,1058.4 3358.7,1069.7 3382.5,1039.5 3406.3,1047.9 3430.2,1052.1 3454.0,1058.4 3477.9,1058.4 3501.7,1052.1 3525.6,1052.1 3549.4,1064.7 3573.2,1015.2 3597.1,1058.4 3620.9,1052.1 3644.8,1059.2 3668.6,1076.4" fill="none" stroke="#000000" stroke-width="3.6" stroke-dasharray="17 17.3" stroke-dashoffset="0"/>
<g fill="none" stroke="#000000" stroke-width="3.6"><circle cx="1975.7" cy="1083.5" r="9"/><circle cx="1999.5" cy="1077.2" r="9"/><circle cx="2023.4" cy="1060.5" r="9"/><circle cx="2047.2" cy="1083.5" r="9"/><circle cx="2071.1" cy="1100.3" r="9"/><circle cx="2094.9" cy="1059.2" r="9"/><circle cx="2118.8" cy="1087.7" r="9"/><circle cx="2142.6" cy="1076.0" r="9"/><circle cx="2166.5" cy="1070.1" r="9"/><circle cx="2190.3" cy="1052.1" r="9"/><circle cx="2214.1" cy="1029.0" r="9"/><circle cx="2238.0" cy="1033.2" r="9"/><circle cx="2261.8" cy="1049.2" r="9"/><circle cx="2285.7" cy="1076.4" r="9"/><circle cx="2309.5" cy="1039.5" r="9"/><circle cx="2333.4" cy="1069.7" r="9"/><circle cx="2357.2" cy="1040.4" r="9"/><circle cx="2381.0" cy="1029.0" r="9"/><circle cx="2404.9" cy="1015.2" r="9"/><circle cx="2428.7" cy="1058.4" r="9"/><circle cx="2452.6" cy="1051.2" r="9"/><circle cx="2476.4" cy="1064.7" r="9"/><circle cx="2500.3" cy="1087.7" r="9"/><circle cx="2524.1" cy="1047.9" r="9"/><circle cx="2548.0" cy="1052.1" r="9"/><circle cx="2571.8" cy="1076.4" r="9"/><circle cx="2595.6" cy="1087.7" r="9"/><circle cx="2619.5" cy="1096.1" r="9"/><circle cx="2643.3" cy="1076.4" r="9"/><circle cx="2667.2" cy="1087.7" r="9"/><circle cx="2691.0" cy="1095.2" r="9"/><circle cx="2714.9" cy="1076.4" r="9"/><circle cx="2738.7" cy="1076.4" r="9"/><circle cx="2762.6" cy="1058.4" r="9"/><circle cx="2786.4" cy="1033.2" r="9"/><circle cx="2810.2" cy="1059.2" r="9"/><circle cx="2834.1" cy="1058.4" r="9"/><circle cx="2857.9" cy="1029.0" r="9"/><circle cx="2881.8" cy="1033.2" r="9"/><circle cx="2905.6" cy="1051.2" r="9"/><circle cx="2929.5" cy="1069.7" r="9"/><circle cx="2953.3" cy="1040.4" r="9"/><circle cx="2977.1" cy="1015.2" r="9"/><circle cx="3001.0" cy="1039.5" r="9"/><circle cx="3024.8" cy="1052.1" r="9"/><circle cx="3048.7" cy="1029.0" r="9"/><circle cx="3072.5" cy="1064.7" r="9"/><circle cx="3096.4" cy="1064.7" r="9"/><circle cx="3120.2" cy="1083.5" r="9"/><circle cx="3144.1" cy="1070.1" r="9"/><circle cx="3167.9" cy="1083.5" r="9"/><circle cx="3191.7" cy="1102.4" r="9"/><circle cx="3215.6" cy="1069.7" r="9"/><circle cx="3239.4" cy="1075.1" r="9"/><circle cx="3263.3" cy="1076.4" r="9"/><circle cx="3287.1" cy="1083.5" r="9"/><circle cx="3311.0" cy="1076.4" r="9"/><circle cx="3334.8" cy="1058.4" r="9"/><circle cx="3358.7" cy="1069.7" r="9"/><circle cx="3382.5" cy="1039.5" r="9"/><circle cx="3406.3" cy="1047.9" r="9"/><circle cx="3430.2" cy="1052.1" r="9"/><circle cx="3454.0" cy="1058.4" r="9"/><circle cx="3477.9" cy="1058.4" r="9"/><circle cx="3501.7" cy="1052.1" r="9"/><circle cx="3525.6" cy="1052.1" r="9"/><circle cx="3549.4" cy="1064.7" r="9"/><circle cx="3573.2" cy="1015.2" r="9"/><circle cx="3597.1" cy="1058.4" r="9"/><circle cx="3620.9" cy="1052.1" r="9"/><circle cx="3644.8" cy="1059.2" r="9"/><circle cx="3668.6" cy="1076.4" r="9"/></g>
<path d="M1973.9 639.1H3669.8V1121.7M2118.8 639.1v16M2309.5 639.1v16M2500.3 639.1v16M2691.0 639.1v16M2881.8 639.1v16M3072.5 639.1v16M3263.3 639.1v16M3454.0 639.1v16M3644.8 639.1v16M3669.8 759.2h-16M3669.8 879.3h-16M3669.8 999.5h-16" stroke="#000" stroke-width="4.0" fill="none"/>
<g font-family="'Liberation Serif', 'Times New Roman', serif" font-size="62.5" fill="#000" stroke="#000" stroke-width="0.6" stroke-linejoin="round">
<text transform="translate(1957.9,653.4) scale(1,1.02)" text-anchor="end">8</text>
<text transform="translate(1957.9,773.5) scale(1,1.02)" text-anchor="end">6</text>
<text transform="translate(1957.9,893.6) scale(1,1.02)" text-anchor="end">4</text>
<text transform="translate(1957.9,1013.8) scale(1,1.02)" text-anchor="end">2</text>
<text transform="translate(1957.9,1134.0) scale(1,1.02)" text-anchor="end">0</text>
<text transform="translate(2121.3,1180.5) scale(1,1.02)" text-anchor="middle">06:00</text>
<text transform="translate(2312.0,1180.5) scale(1,1.02)" text-anchor="middle">14:00</text>
<text transform="translate(2502.8,1180.5) scale(1,1.02)" text-anchor="middle">22:00</text>
<text transform="translate(2693.5,1180.5) scale(1,1.02)" text-anchor="middle">06:00</text>
<text transform="translate(2884.3,1180.5) scale(1,1.02)" text-anchor="middle">14:00</text>
<text transform="translate(3075.0,1180.5) scale(1,1.02)" text-anchor="middle">22:00</text>
<text transform="translate(3265.8,1180.5) scale(1,1.02)" text-anchor="middle">06:00</text>
<text transform="translate(3456.5,1180.5) scale(1,1.02)" text-anchor="middle">14:00</text>
<text transform="translate(3647.3,1180.5) scale(1,1.02)" text-anchor="middle">22:00</text>
</g>
</g>
<g font-family="'Liberation Serif', 'Times New Roman', serif" font-size="62.5" fill="#000" stroke="#000" stroke-width="0.6" stroke-linejoin="round">
<text transform="translate(1481.0,107.5) scale(1,1.02)">(a) winter</text>
<text transform="translate(3278.0,107.5) scale(1,1.02)">(b) summer</text>
<text transform="translate(1481.0,714.5) scale(1,1.02)">(c) winter</text>
<text transform="translate(3278.0,714.5) scale(1,1.02)">(d) summer</text>
<text transform="translate(909.5,1251.5) scale(1,1.02)">LST</text>
<text transform="translate(2726.5,1251.5) scale(1,1.02)">LST</text>
<text transform="translate(54.5,326) rotate(-90) scale(1,1.02)"><tspan font-style="italic" stroke-width="0.2">T</tspan><tspan x="31">/</tspan><tspan x="54" dy="-18" font-size="42">°</tspan></text>
<text transform="translate(54.5,326) rotate(-90) translate(68.5,0) scale(0.86,1.08)">C</text>
<text transform="translate(86.1,1111.5) rotate(-90) scale(1,1.045)" font-size="61.7">Wind speed/(m·s<tspan font-size="36" dy="-22">-1</tspan><tspan dy="22">)</tspan></text>
<rect x="1050.7" y="1227.3" width="1668.3" height="101.7" fill="#fff" stroke="#000" stroke-width="4"/>
<path d="M1096.5 1280.8H1183" stroke="#00ff00" stroke-width="3.6"/><circle cx="1140.5" cy="1280.8" r="9" fill="none" stroke="#00ff00" stroke-width="3.6"/>
<text transform="translate(1195.5,1299.0) scale(1,1.02)">TWIND0</text>
<path d="M1491.3 1280.8H1578.6" stroke="#ff0000" stroke-width="3.6"/><circle cx="1534" cy="1280.8" r="9.3" fill="#ff0000"/>
<text transform="translate(1588.5,1299.0) scale(1,1.02)">TWIND1</text>
<path d="M1876 1280.8H1964.4" stroke="#0000ff" stroke-width="3.6"/><circle cx="1927.3" cy="1280.8" r="9.3" fill="#0000ff"/>
<text transform="translate(1976.0,1299.0) scale(1,1.02)">TWIND2</text>
<path d="M2278 1280.8H2295M2311.5 1280.8H2328.5M2345 1280.8H2362" stroke="#000" stroke-width="3.6"/><circle cx="2322.7" cy="1280.8" r="9" fill="none" stroke="#000" stroke-width="3.6"/>
<text transform="translate(2379.5,1299.0) scale(1,1.02)">Observation</text>
</g>
</svg>
</body></html>
